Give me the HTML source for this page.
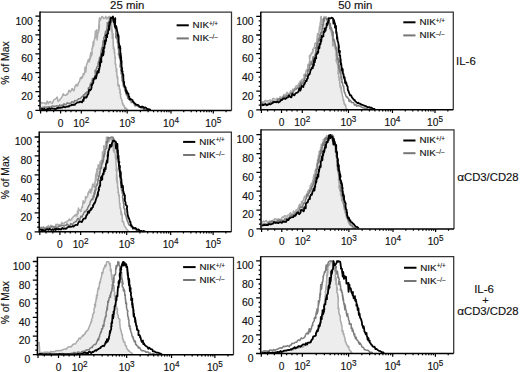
<!DOCTYPE html><html><head><meta charset="utf-8"><style>html,body{margin:0;padding:0;background:#fff;}svg{display:block;}text{stroke:#111;stroke-width:0.15px;}</style></head><body>
<svg width="520" height="372" viewBox="0 0 520 372" font-family='"Liberation Sans", sans-serif' fill="#111">
<rect width="520" height="372" fill="#fff"/>
<path d="M40.7 110.4 L40.8 103.3 L41.88 102.46 L42.55 103.1 L43.99 102.93 L45.28 102.97 L46.03 104.26 L47.05 101.11 L48.38 103.74 L49.03 101.93 L50.4 101.51 L51.15 102.8 L52.32 103.38 L53.09 101.65 L53.59 100.07 L55.53 98.79 L56.23 98.3 L57.23 97.05 L58.08 101.43 L59.74 100.21 L60.5 98.65 L61.39 97.85 L62.24 96.37 L63.3 93.75 L64.05 95.32 L64.6 95.3 L66.01 95.17 L67.02 94 L67.52 94.34 L68.55 91.82 L68.96 90.16 L70.35 91.92 L71.35 90.07 L72.06 88.48 L73.13 90.24 L73.96 90.75 L74.72 87.55 L74.87 87.09 L75.31 85.67 L76.07 85.17 L76.46 84.33 L77.3 86.08 L78.05 84.34 L78.58 82.85 L79.16 82.06 L79.55 80.98 L80.53 77.52 L81.03 78.79 L82.03 76.54 L81.89 78.29 L82.83 76.45 L83.18 73.84 L84.14 74.53 L84.34 73.18 L84.77 71.14 L84.94 67.32 L85.73 71.08 L85.82 72.11 L86.42 65.04 L87.04 63.93 L87.17 63.13 L87.33 63.03 L88.18 59.85 L88.35 61.88 L88.86 59.14 L89.34 61.71 L89.84 58.13 L90.15 56.57 L90.47 53.74 L90.37 58.97 L90.92 52.39 L91.07 55.15 L91.41 56.16 L92.17 53.46 L91.9 49.59 L91.88 48.77 L92.44 48.65 L92.57 45.83 L93.05 46.78 L93.1 42.04 L93.04 41.92 L93.8 44.93 L93.85 41.88 L94.85 37.28 L94.9 38.62 L95.41 30.9 L96.05 37.31 L96.43 36.02 L96.37 34.64 L96.84 29.86 L97.09 34.04 L97.07 39.99 L97.99 32.53 L98.53 32.15 L98.89 24.47 L98.63 26.4 L99.04 29.8 L99.08 30.1 L99.39 25.35 L99.06 21.42 L99.02 23.55 L99.25 19.89 L98.99 24.41 L99.51 17.72 L99.71 20.25 L99.24 22.38 L99.32 18.74 L100.06 20.57 L101.99 16.4 L102.41 16.4 L103.53 18.64 L105.21 17.81 L105.82 16.4 L106.66 19 L108.29 16.94 L109.3 19.32 L109.27 16.4 L109.7 16.4 L110.22 19.62 L110.58 20.9 L110.99 24.95 L111.19 27.75 L111.45 31.13 L111.7 20.75 L110.98 29.16 L111.41 21.67 L112.13 31.52 L112.13 34.69 L111.8 27.18 L112.34 32 L112.29 38.55 L112.37 30.69 L112.26 34.75 L112.6 35.39 L113.06 33.75 L113.08 39.76 L112.97 36.72 L113.12 36.83 L113.11 45.79 L113.4 42.66 L113.24 40.41 L113.43 47.57 L113.28 48.8 L113.61 46.72 L113.64 46.47 L113.63 46.72 L114.36 49.73 L114.73 49.82 L114.29 49.83 L114.17 52.88 L114.43 50.96 L114.77 52.43 L114.66 53.15 L114.97 57.49 L115.23 59.76 L115.13 57.23 L115.52 57.48 L115.32 59.51 L115.07 60.78 L115.36 63.21 L115.02 64.08 L115.6 64 L115.8 64.12 L115.89 67.79 L116.19 68.33 L116.52 69.39 L115.99 70.97 L116.72 68.65 L116.73 72.53 L116.33 71.46 L116.74 70.52 L116.98 76.68 L117.41 76.17 L117.39 78.41 L117.65 79.24 L117.87 77.1 L117.67 78.89 L117.84 79.81 L117.8 85.03 L118.6 86.25 L118.54 85.45 L118.65 84.4 L118.36 85.67 L119.32 85.54 L119.36 89.05 L119.31 89.34 L120.09 89.16 L119.85 93.17 L120.15 90.2 L120.28 93.93 L120.89 94.33 L120.43 95.19 L120.56 96.51 L121.12 98.66 L121.34 98.69 L122.16 100.7 L121.89 100.59 L122.58 103.76 L122.47 103.23 L122.93 103.21 L122.84 105.05 L124.06 105.31 L124.71 107.99 L124.89 108.67 L125.51 107.54 L126.76 109.15 L128 110.2 L128 110.4Z" fill="#ededed" stroke="none"/>
<path d="M40.8 103.3 L41.88 102.46 L42.55 103.1 L43.99 102.93 L45.28 102.97 L46.03 104.26 L47.05 101.11 L48.38 103.74 L49.03 101.93 L50.4 101.51 L51.15 102.8 L52.32 103.38 L53.09 101.65 L53.59 100.07 L55.53 98.79 L56.23 98.3 L57.23 97.05 L58.08 101.43 L59.74 100.21 L60.5 98.65 L61.39 97.85 L62.24 96.37 L63.3 93.75 L64.05 95.32 L64.6 95.3 L66.01 95.17 L67.02 94 L67.52 94.34 L68.55 91.82 L68.96 90.16 L70.35 91.92 L71.35 90.07 L72.06 88.48 L73.13 90.24 L73.96 90.75 L74.72 87.55 L74.87 87.09 L75.31 85.67 L76.07 85.17 L76.46 84.33 L77.3 86.08 L78.05 84.34 L78.58 82.85 L79.16 82.06 L79.55 80.98 L80.53 77.52 L81.03 78.79 L82.03 76.54 L81.89 78.29 L82.83 76.45 L83.18 73.84 L84.14 74.53 L84.34 73.18 L84.77 71.14 L84.94 67.32 L85.73 71.08 L85.82 72.11 L86.42 65.04 L87.04 63.93 L87.17 63.13 L87.33 63.03 L88.18 59.85 L88.35 61.88 L88.86 59.14 L89.34 61.71 L89.84 58.13 L90.15 56.57 L90.47 53.74 L90.37 58.97 L90.92 52.39 L91.07 55.15 L91.41 56.16 L92.17 53.46 L91.9 49.59 L91.88 48.77 L92.44 48.65 L92.57 45.83 L93.05 46.78 L93.1 42.04 L93.04 41.92 L93.8 44.93 L93.85 41.88 L94.85 37.28 L94.9 38.62 L95.41 30.9 L96.05 37.31 L96.43 36.02 L96.37 34.64 L96.84 29.86 L97.09 34.04 L97.07 39.99 L97.99 32.53 L98.53 32.15 L98.89 24.47 L98.63 26.4 L99.04 29.8 L99.08 30.1 L99.39 25.35 L99.06 21.42 L99.02 23.55 L99.25 19.89 L98.99 24.41 L99.51 17.72 L99.71 20.25 L99.24 22.38 L99.32 18.74 L100.06 20.57 L101.99 16.4 L102.41 16.4 L103.53 18.64 L105.21 17.81 L105.82 16.4 L106.66 19 L108.29 16.94 L109.3 19.32 L109.27 16.4 L109.7 16.4 L110.22 19.62 L110.58 20.9 L110.99 24.95 L111.19 27.75 L111.45 31.13 L111.7 20.75 L110.98 29.16 L111.41 21.67 L112.13 31.52 L112.13 34.69 L111.8 27.18 L112.34 32 L112.29 38.55 L112.37 30.69 L112.26 34.75 L112.6 35.39 L113.06 33.75 L113.08 39.76 L112.97 36.72 L113.12 36.83 L113.11 45.79 L113.4 42.66 L113.24 40.41 L113.43 47.57 L113.28 48.8 L113.61 46.72 L113.64 46.47 L113.63 46.72 L114.36 49.73 L114.73 49.82 L114.29 49.83 L114.17 52.88 L114.43 50.96 L114.77 52.43 L114.66 53.15 L114.97 57.49 L115.23 59.76 L115.13 57.23 L115.52 57.48 L115.32 59.51 L115.07 60.78 L115.36 63.21 L115.02 64.08 L115.6 64 L115.8 64.12 L115.89 67.79 L116.19 68.33 L116.52 69.39 L115.99 70.97 L116.72 68.65 L116.73 72.53 L116.33 71.46 L116.74 70.52 L116.98 76.68 L117.41 76.17 L117.39 78.41 L117.65 79.24 L117.87 77.1 L117.67 78.89 L117.84 79.81 L117.8 85.03 L118.6 86.25 L118.54 85.45 L118.65 84.4 L118.36 85.67 L119.32 85.54 L119.36 89.05 L119.31 89.34 L120.09 89.16 L119.85 93.17 L120.15 90.2 L120.28 93.93 L120.89 94.33 L120.43 95.19 L120.56 96.51 L121.12 98.66 L121.34 98.69 L122.16 100.7 L121.89 100.59 L122.58 103.76 L122.47 103.23 L122.93 103.21 L122.84 105.05 L124.06 105.31 L124.71 107.99 L124.89 108.67 L125.51 107.54 L126.76 109.15 L128 110.2" fill="none" stroke="#ababab" stroke-width="1.5" stroke-linejoin="round"/>
<path d="M41 107.8 L42.39 107.42 L43.11 107.92 L44.34 106.82 L45.27 107.1 L46.09 107.58 L46.7 107.09 L47.73 107.09 L49.01 106.78 L50.08 107.02 L51.28 107.08 L51.86 106 L52.76 105.93 L54.13 106.31 L55.01 106.6 L56.28 105.78 L57.36 105.92 L58.56 106.42 L59.67 104.82 L60.37 106.06 L61.57 105.13 L62.4 105.42 L64.02 103.78 L64.97 104.84 L65.57 104.64 L67.16 102.9 L67.7 102.71 L68.31 103.53 L69.27 103.54 L70.76 103.02 L71.86 101.69 L72.62 101.96 L73.74 102.62 L74.64 100.58 L75.44 100.68 L76.69 100.41 L77.71 99.67 L78.94 98.7 L80.35 98.37 L80.6 98.4 L81.43 97.3 L82.51 96.19 L83.22 96.21 L83.53 94.7 L84.9 94.99 L84.94 93.82 L85.79 92.76 L86.52 93.76 L87 91.75 L88.53 91.54 L88.28 88.45 L88.5 87.75 L89.46 87.96 L89.88 86.3 L90.08 85.54 L90.42 83.64 L90.66 83.84 L91.52 82.17 L91.78 83.33 L92.42 78.6 L92.56 80.76 L93.42 78.51 L93.78 78.6 L94.26 79.21 L94.75 77.69 L94.9 75.2 L94.94 75.61 L95.49 74.97 L95.03 70.57 L95.57 71.81 L96 69.71 L96.58 68.64 L97.09 68.73 L96.64 67.85 L96.91 67.14 L97.59 66.03 L97.95 66.33 L98.04 63.43 L98.33 64.23 L98.36 62.46 L98.35 61.81 L99.13 60.86 L99.07 61 L99.53 57.54 L100.23 56.84 L100.23 56.5 L100.47 56.57 L101 54.78 L100.99 55.09 L100.96 53.02 L101.55 48.6 L101.79 50.42 L101.94 49.79 L101.96 47.37 L102.03 48.33 L102.49 46.59 L102.76 44.85 L102.74 43.58 L103.12 40.79 L103.72 41.91 L103.89 39.1 L103.72 37.41 L103.96 42 L103.88 39.27 L104.27 37.31 L105.56 31.79 L105.25 34.18 L105.37 33.77 L105.48 31.49 L106.29 34 L106.37 30.39 L106.31 34.88 L106.43 31.62 L107.11 26.93 L106.93 27.69 L107.28 26.66 L107.23 22.59 L108.01 23.59 L108.76 22.49 L108.98 21.31 L109.93 19.35 L110.12 20.69 L111.02 20.23 L112.43 19.99 L113.44 18.55 L113.21 21.59 L113.42 21.46 L113.91 20.61 L114.36 24.25 L114.31 23.65 L114.91 26.14 L115.01 25.93 L114.73 24.55 L115.21 28.77 L115.4 27.73 L115.72 31.25 L115.78 28.4 L115.8 37.72 L115.91 34.09 L116.43 35.54 L116.93 36.53 L116.36 37.11 L116.93 38.98 L116.87 37.57 L117.52 37.92 L117.4 42.46 L117.51 39.73 L117.74 42.29 L118.04 45.18 L118.26 49.09 L118.23 46.73 L118.28 47.62 L118.55 49.77 L118.8 52.78 L119.16 48.39 L119.49 47.92 L118.27 54.52 L118.88 52.09 L119.11 56.2 L119.36 55.99 L119.25 55.26 L119.51 56.93 L119.37 53.99 L120.08 59.48 L119.44 57.63 L120.19 58.57 L120.46 62.31 L120.4 63.09 L120.04 66.92 L120.7 62.78 L121.07 66.03 L120.7 70.76 L120.8 66.75 L120.87 70.47 L121.51 71.66 L120.99 73.62 L121.57 72.48 L121.37 72.95 L122.16 72.78 L121.65 77.4 L121.97 75.41 L122.05 79.19 L122.22 80.82 L122.68 81.79 L122.76 80.26 L122.84 82.52 L123.34 86.11 L123.42 82.27 L123.31 83.8 L123.94 86.51 L123.9 86.98 L124.56 88.08 L124.91 90.4 L125.51 91.66 L125.62 91.36 L125.96 93.54 L126.76 95.33 L127.06 95.56 L127.28 94.44 L127.69 98.37 L128.06 97.4 L128.34 97.68 L129.19 99.66 L130.32 99.23 L130.76 100.82 L131.35 102.59 L131.76 101.86 L133.2 102.59 L134.19 104.12 L135.1 106.02 L136.05 105.77 L136.91 105.15 L137.72 106.29 L138.17 106.57 L139.41 107.1 L140.66 107.16 L142.07 108.07 L143.13 108.24 L143.47 109.46 L145.3 109.38 L145.75 109.66 L147.32 108.76 L147.88 109.44 L149 109.8" fill="none" stroke="#7d7d7d" stroke-width="1.5" stroke-linejoin="round"/>
<path d="M41 109.2 L42.15 108.86 L42.72 109.66 L44.51 108.8 L44.95 109.6 L46.2 109.88 L47.56 108.82 L48.42 109.03 L49.37 108.3 L49.69 108.78 L50.74 109 L52 108.25 L52.88 108.63 L54.01 108.57 L55.12 109.18 L56.7 108.58 L57.2 107.8 L57.99 108.31 L58.93 107.53 L60.5 107.85 L61.69 107.49 L62.55 107.49 L63.59 106.33 L64.31 107.13 L65.38 107.29 L66.62 106.53 L67.92 106.3 L68.8 106.59 L69.61 105.67 L71.08 105.39 L71.86 104.54 L72.77 105.07 L73.2 104.76 L74.82 104.84 L75.2 103.91 L76.18 103.33 L77.87 102.27 L78.96 102.43 L79.17 102.08 L80.3 101.57 L82.04 102.39 L83.03 99.72 L83.5 100.87 L84.04 97.15 L84.37 98.4 L85.05 97.4 L85.94 97.14 L86.41 97.57 L87.69 94.64 L87.54 94.69 L88.32 94.1 L89.16 89.62 L89.62 89.75 L90.12 90.37 L91.16 89.14 L91.59 87.38 L91.49 84.71 L91.95 85.37 L92.21 84.84 L92.46 83.88 L93.21 82.85 L93.5 80.19 L93.34 80.7 L94.3 78.17 L94.72 78.86 L95.4 76.41 L95.86 77.88 L96.05 78.33 L96.66 74.95 L96.63 75.95 L97.28 71.42 L97.48 72.72 L97.98 71.77 L98.16 70.77 L98.76 72.52 L98.96 68.55 L99.22 69.77 L99.92 64.45 L99.81 65.82 L99.8 62.22 L100.13 66.07 L100.18 61.8 L100.76 58.12 L101.3 61.63 L101.46 62.24 L101.26 59.22 L101.73 53.81 L102.25 54.94 L102.21 55.88 L102.72 54.6 L102.5 52.82 L102.89 54.06 L102.95 49.97 L103.22 55.32 L103.82 51.9 L103.66 49.19 L103.38 48.96 L103.43 47.62 L104.4 47.95 L104.47 45.43 L104.54 44.59 L104.8 40.41 L105.11 44.38 L105.5 41.3 L106.14 41 L106.16 35.15 L105.84 35.69 L107.2 37.09 L107.04 34.93 L107 35.74 L107.36 34.58 L107.44 33.86 L108.04 33.62 L107.95 32.96 L108.3 29.49 L108.39 28.92 L108.82 30.23 L108.93 25.16 L108.95 25.34 L109.25 29.14 L109.43 22.22 L109.81 25.26 L109.89 22.01 L110.54 22.34 L110.55 18.1 L111.01 17.57 L111.91 18.37 L112.96 16.54 L113.5 19.87 L113.76 22.23 L114.16 19.51 L114.81 26.68 L115.27 18.18 L115.08 26.29 L115.72 28.13 L116.02 25.87 L116.31 26.44 L116.25 28.48 L116.63 27.82 L117 30.4 L116.95 30.3 L117.6 32.91 L117.75 35.33 L117.74 34.72 L118.21 37.13 L117.78 35.55 L118.13 34.45 L118.63 36.2 L118.66 41.2 L118.58 41.19 L119.24 45.13 L118.96 47.71 L119.53 46.1 L119.82 45.68 L120.47 48.74 L119.8 46.54 L120.14 48.53 L120.32 50.9 L120.18 56.91 L120.27 54.66 L120.81 53.39 L120.37 54.92 L120.47 58 L120.57 53.55 L121.1 57.19 L120.78 60.18 L121.25 58.25 L120.99 61.86 L121.61 61.01 L121.49 66.6 L121.52 61.97 L121.13 63.65 L121.2 63.42 L121.9 68.09 L122.24 68.35 L121.75 71.09 L122.04 70.4 L122.67 71.42 L122.28 72.08 L122.91 74.63 L123.04 75.17 L123.43 76.14 L123.17 74.28 L123.35 77.79 L123.56 81.45 L123.75 81.4 L123.98 81.79 L124.21 82.7 L123.93 83.18 L124.52 86.31 L124.76 86.68 L124.84 86.08 L125.06 87.4 L125.59 87.46 L126.09 91.87 L126.2 89.86 L127.08 91.76 L126.74 93.38 L127.63 92.99 L128.38 93.43 L128.68 96.52 L129.27 97.02 L129.27 96.56 L129.59 99.64 L130.52 98.85 L131.55 99.72 L132.54 100.08 L132.7 100.89 L133.41 101.94 L134.52 103.28 L135.46 103.98 L135.77 104.4 L136.96 104.82 L137.99 104.88 L138.59 105.4 L139.39 106.51 L140.84 107.42 L141.47 106.59 L142.83 106.73 L144.25 107.97 L145.27 107.41 L146.28 108.02 L147.31 109.21 L149.11 109.23 L149.9 109.69 L151 109.8" fill="none" stroke="#000" stroke-width="1.8" stroke-linejoin="round"/>
<path d="M261.5 109.8 L261.5 102.5 L262.99 101.67 L263.81 102.67 L265.14 100.34 L266.17 100.88 L267.09 101.81 L267.8 100.76 L268.93 100.71 L270.18 99.99 L271.23 100.41 L272.36 100.61 L272.87 98.45 L273.7 98.38 L275 99.25 L275.82 99.91 L277.02 98.31 L278.03 98.67 L279.17 99.74 L280.21 96.59 L280.76 98.92 L281.82 97.07 L282.51 97.67 L284 94.37 L284.81 96.53 L285.27 96.13 L286.72 92.65 L287.12 92.3 L287.6 93.94 L288.41 93.96 L289.76 92.95 L290.74 90.71 L291.24 91.4 L292.1 92.85 L292.75 89.05 L293.29 89.4 L294.28 89.05 L295.05 87.79 L296.02 86.08 L297.36 85.86 L297.52 86.31 L298.27 84.63 L299.27 82.95 L299.91 83.36 L300.13 80.97 L301.32 82.19 L301.19 80.75 L301.87 79.53 L302.43 81.93 L302.73 79.04 L304.09 79.29 L303.89 74.73 L304.15 74.25 L305.17 75.31 L305.64 73.22 L305.89 72.63 L306.28 70.17 L306.56 71.16 L307.47 69.1 L307.49 71.44 L307.89 64.26 L307.79 68.2 L308.41 65.04 L308.53 65.63 L308.76 67.06 L309.22 65.1 L309.33 61.61 L309.34 62.73 L309.85 62.18 L309.36 55.71 L309.86 58.11 L310.25 55.28 L310.81 54.06 L311.27 54.65 L310.94 53.85 L311.32 53.31 L312.11 52.14 L312.58 53.15 L312.78 49.22 L313.18 51 L313.32 48.82 L313.42 48.36 L314.31 47.45 L314.36 48.19 L314.93 43.45 L315.74 42.91 L315.85 42.92 L316.24 43.56 L316.83 41.39 L316.88 42.39 L316.9 39.78 L317.56 33.66 L317.85 36.93 L318.07 36.5 L318.15 33.38 L318.27 35.34 L318.79 33.26 L319.12 31.17 L319.16 29.79 L319.6 26.15 L320.26 28.33 L320.49 24.67 L320.14 22.63 L320.21 29.9 L319.96 26.33 L320.18 23.89 L321.29 16.6 L320.81 20.19 L320.71 20.07 L320.62 17.17 L321.21 21.34 L321.08 16.6 L321.79 24.53 L322.67 21.21 L324.12 16.6 L324.71 18.38 L325.82 18.35 L326.01 16.6 L327.01 18.72 L327.66 19.55 L327.78 20.26 L328.63 19.92 L328.72 24.02 L329.52 25.67 L330.33 26.76 L330.44 26.32 L330.17 29.88 L330.35 29.29 L330.81 27.77 L331.22 32.1 L331.14 30.91 L331.71 33.74 L331.82 33.07 L331.55 30.89 L332.04 35.99 L332.24 34.24 L332.57 38.43 L332.64 34.33 L332.67 46.05 L332.79 40.94 L333.4 42.45 L333.99 43.34 L333.52 43.68 L334.19 45.71 L334.23 43.48 L334.98 43.54 L334.96 49.03 L335.17 45.08 L335.5 48 L335.9 51.34 L336.05 56.06 L335.95 52.64 L335.99 53.52 L336.26 56.02 L336.5 59.63 L336.85 53.7 L337.19 52.82 L335.96 61.05 L336.57 57.66 L336.79 62.67 L337.03 62.14 L336.93 60.94 L337.18 62.82 L337.04 58.81 L337.75 65.55 L337.1 62.95 L337.9 63.89 L338.22 68.39 L338.2 69.12 L337.88 73.69 L338.6 68.24 L339.01 72.09 L338.64 77.75 L338.73 72.47 L338.81 76.86 L339.45 78.08 L338.93 80.26 L339.5 78.6 L339.31 78.94 L340.09 78.5 L339.59 83.94 L339.9 81.27 L340.03 85.59 L340.23 87.29 L340.73 88.18 L340.85 86.07 L340.97 88.53 L341.5 92.55 L341.47 87.7 L341.23 89.26 L341.75 92.22 L341.59 92.52 L342.13 93.56 L342.37 96.02 L342.85 97.24 L342.84 96.67 L342.94 99.05 L343.51 100.95 L343.57 101.13 L343.72 99.85 L344.06 103.97 L344.36 102.92 L344.57 103.21 L345.02 105.29 L345.76 105.07 L345.81 106.72 L346.22 108.46 L346.44 108.37 L347.5 109.8 L347.5 109.8Z" fill="#ededed" stroke="none"/>
<path d="M261.5 102.5 L262.99 101.67 L263.81 102.67 L265.14 100.34 L266.17 100.88 L267.09 101.81 L267.8 100.76 L268.93 100.71 L270.18 99.99 L271.23 100.41 L272.36 100.61 L272.87 98.45 L273.7 98.38 L275 99.25 L275.82 99.91 L277.02 98.31 L278.03 98.67 L279.17 99.74 L280.21 96.59 L280.76 98.92 L281.82 97.07 L282.51 97.67 L284 94.37 L284.81 96.53 L285.27 96.13 L286.72 92.65 L287.12 92.3 L287.6 93.94 L288.41 93.96 L289.76 92.95 L290.74 90.71 L291.24 91.4 L292.1 92.85 L292.75 89.05 L293.29 89.4 L294.28 89.05 L295.05 87.79 L296.02 86.08 L297.36 85.86 L297.52 86.31 L298.27 84.63 L299.27 82.95 L299.91 83.36 L300.13 80.97 L301.32 82.19 L301.19 80.75 L301.87 79.53 L302.43 81.93 L302.73 79.04 L304.09 79.29 L303.89 74.73 L304.15 74.25 L305.17 75.31 L305.64 73.22 L305.89 72.63 L306.28 70.17 L306.56 71.16 L307.47 69.1 L307.49 71.44 L307.89 64.26 L307.79 68.2 L308.41 65.04 L308.53 65.63 L308.76 67.06 L309.22 65.1 L309.33 61.61 L309.34 62.73 L309.85 62.18 L309.36 55.71 L309.86 58.11 L310.25 55.28 L310.81 54.06 L311.27 54.65 L310.94 53.85 L311.32 53.31 L312.11 52.14 L312.58 53.15 L312.78 49.22 L313.18 51 L313.32 48.82 L313.42 48.36 L314.31 47.45 L314.36 48.19 L314.93 43.45 L315.74 42.91 L315.85 42.92 L316.24 43.56 L316.83 41.39 L316.88 42.39 L316.9 39.78 L317.56 33.66 L317.85 36.93 L318.07 36.5 L318.15 33.38 L318.27 35.34 L318.79 33.26 L319.12 31.17 L319.16 29.79 L319.6 26.15 L320.26 28.33 L320.49 24.67 L320.14 22.63 L320.21 29.9 L319.96 26.33 L320.18 23.89 L321.29 16.6 L320.81 20.19 L320.71 20.07 L320.62 17.17 L321.21 21.34 L321.08 16.6 L321.79 24.53 L322.67 21.21 L324.12 16.6 L324.71 18.38 L325.82 18.35 L326.01 16.6 L327.01 18.72 L327.66 19.55 L327.78 20.26 L328.63 19.92 L328.72 24.02 L329.52 25.67 L330.33 26.76 L330.44 26.32 L330.17 29.88 L330.35 29.29 L330.81 27.77 L331.22 32.1 L331.14 30.91 L331.71 33.74 L331.82 33.07 L331.55 30.89 L332.04 35.99 L332.24 34.24 L332.57 38.43 L332.64 34.33 L332.67 46.05 L332.79 40.94 L333.4 42.45 L333.99 43.34 L333.52 43.68 L334.19 45.71 L334.23 43.48 L334.98 43.54 L334.96 49.03 L335.17 45.08 L335.5 48 L335.9 51.34 L336.05 56.06 L335.95 52.64 L335.99 53.52 L336.26 56.02 L336.5 59.63 L336.85 53.7 L337.19 52.82 L335.96 61.05 L336.57 57.66 L336.79 62.67 L337.03 62.14 L336.93 60.94 L337.18 62.82 L337.04 58.81 L337.75 65.55 L337.1 62.95 L337.9 63.89 L338.22 68.39 L338.2 69.12 L337.88 73.69 L338.6 68.24 L339.01 72.09 L338.64 77.75 L338.73 72.47 L338.81 76.86 L339.45 78.08 L338.93 80.26 L339.5 78.6 L339.31 78.94 L340.09 78.5 L339.59 83.94 L339.9 81.27 L340.03 85.59 L340.23 87.29 L340.73 88.18 L340.85 86.07 L340.97 88.53 L341.5 92.55 L341.47 87.7 L341.23 89.26 L341.75 92.22 L341.59 92.52 L342.13 93.56 L342.37 96.02 L342.85 97.24 L342.84 96.67 L342.94 99.05 L343.51 100.95 L343.57 101.13 L343.72 99.85 L344.06 103.97 L344.36 102.92 L344.57 103.21 L345.02 105.29 L345.76 105.07 L345.81 106.72 L346.22 108.46 L346.44 108.37 L347.5 109.8" fill="none" stroke="#ababab" stroke-width="1.5" stroke-linejoin="round"/>
<path d="M261.5 104 L262.73 103.35 L263.38 104.72 L265.25 103.17 L265.78 104.53 L267.11 104.95 L268.55 103.08 L269.49 103.38 L270.4 101.9 L270.67 102.51 L271.67 102.69 L272.88 101.13 L273.72 101.6 L274.8 101.28 L275.87 102.18 L277.4 100.87 L277.85 99.2 L278.57 100.16 L279.45 98.75 L280.87 99.21 L281.91 98.42 L282.63 98.28 L283.52 96.1 L284.09 97.36 L285.01 97.51 L286.1 96.03 L287.26 95.49 L288.04 96.09 L288.76 94.62 L290.14 94.25 L290.81 92.94 L291.52 93.67 L291.75 93.03 L293.15 93 L293.3 91.51 L294.05 90.58 L295.5 88.89 L296.36 89.14 L296.34 88.58 L297.23 87.78 L298.74 88.99 L299.49 84.9 L300.09 87.19 L300.75 82.3 L301.2 84.62 L301.77 83.43 L302.55 83.27 L302.92 84.04 L304.09 80.21 L303.9 80.63 L304.65 80.16 L305.46 74.61 L305.89 75.11 L306.35 76.21 L307.36 74.92 L307.78 72.99 L307.66 69.95 L308.11 71.06 L308.35 70.67 L308.58 69.74 L309.32 68.73 L309.6 65.76 L309.43 66.61 L310.38 63.81 L310.62 64.71 L311.13 61.87 L311.46 63.72 L311.71 64.44 L312.37 60.64 L312.4 61.98 L313.1 56.87 L313.35 58.56 L313.91 57.63 L314.14 56.63 L314.79 58.81 L315.05 54.4 L315.28 55.89 L315.94 49.9 L315.89 51.54 L315.94 47.53 L316.34 51.97 L316.44 47.2 L317.09 43.11 L317.69 47.14 L317.92 47.9 L317.77 44.56 L318.3 38.53 L318.89 39.88 L318.91 40.99 L319.5 39.62 L319.35 37.69 L319.83 39.13 L319.97 34.62 L320.31 40.64 L320.99 36.89 L320.9 33.92 L320.71 33.72 L320.83 32.29 L321.88 32.7 L322.04 29.95 L322.1 29.06 L322.35 24.47 L322.61 28.87 L322.94 25.49 L323.53 25.18 L323.5 18.76 L323.12 19.38 L324.43 20.94 L324.23 18.58 L324.13 19.5 L324.44 18.24 L325.24 18.2 L326.64 18.81 L326.85 20.18 L327.5 18.57 L327.89 20.07 L328.62 23.48 L329.03 20.32 L329.35 22.55 L329.95 28.39 L330.36 23.52 L330.71 28.57 L330.75 27.45 L331.37 29.79 L331.35 27.79 L331.78 29.32 L331.86 30.97 L332.09 30.19 L332.4 33.3 L332.42 35.5 L332.59 33.03 L333.01 39.66 L333.24 31.89 L332.81 39.37 L333.5 41.07 L333.84 39.02 L334.15 39.56 L334.11 41.45 L334.51 40.87 L334.9 43.25 L334.86 43.19 L335.53 45.59 L335.7 47.82 L335.71 47.29 L336.21 49.5 L335.81 48.08 L336.19 47.1 L336.71 48.72 L336.75 53.32 L336.69 53.39 L337.36 57.01 L337.09 59.41 L337.68 58.05 L337.98 57.74 L338.66 60.55 L338.03 58.64 L338.41 60.5 L338.62 62.68 L338.51 68.1 L338.64 66.16 L339.21 65.11 L338.88 66.58 L339.09 69.4 L339.31 65.58 L339.95 68.9 L339.75 71.63 L340.34 70.05 L340.18 73.32 L340.92 72.7 L340.92 77.66 L341.06 73.78 L340.78 75.36 L340.97 75.31 L341.72 79.45 L342.11 79.82 L341.67 82.3 L342.01 81.89 L342.69 82.91 L342.39 83.6 L343.12 85.85 L343.34 86.44 L343.82 87.38 L343.66 86.04 L343.93 89.04 L344.24 92.13 L344.52 92.26 L344.84 92.75 L345.16 93.64 L345.33 94.17 L346.2 96.7 L346.73 97.13 L347.11 96.86 L347.61 98.01 L348.43 98.26 L349.22 101.6 L349.84 100.15 L351.25 101.44 L351.27 102.6 L352.52 102.4 L353.63 102.78 L354.29 104.88 L355.36 104.95 L355.82 104.4 L356.62 106.14 L357.78 105.52 L359.04 105.98 L360.26 106.11 L360.64 106.53 L361.66 107.06 L363.07 107.76 L364.33 108.06 L364.69 108.28 L365.94 108.49 L367.02 108.49 L367.68 108.78 L368.53 109.4 L370 109.5" fill="none" stroke="#7d7d7d" stroke-width="1.5" stroke-linejoin="round"/>
<path d="M261.5 105.5 L262.61 104.69 L263.25 105.19 L265.07 104.5 L265.63 104.02 L266.87 105.3 L267.84 104.8 L269.4 103.96 L270.19 104.41 L271.32 103.7 L272.14 103.2 L272.87 102.94 L273.62 101.81 L275.35 102.1 L276.1 102.25 L276.88 101.66 L277.94 101.98 L278.48 102.46 L280.01 101.53 L280.88 99.97 L282.09 100.05 L282.85 99.07 L283.6 98.49 L284.74 98.61 L285.6 99.05 L286.8 97.57 L288.01 97.36 L288.91 95.48 L289.68 95.94 L290.21 97.11 L291.45 97.37 L292.32 93.71 L293.58 94.86 L294.46 95.39 L295.25 93.66 L296.19 92.94 L297.22 92.69 L298.51 91.64 L299.05 89.31 L299.59 88.26 L300.42 90.61 L300.96 88.84 L301.82 85.75 L301.87 86.01 L303.41 87.04 L303.35 86.31 L303.91 84.78 L304.61 83.93 L305.41 81.79 L305.68 80.86 L305.76 81.25 L306.58 81.1 L307.13 78.63 L307.7 78.65 L308.03 75.87 L308.72 75.38 L308.89 74.32 L309.45 74.08 L309.73 73.94 L310.14 72.23 L310.52 70.05 L311.47 69.23 L311.5 68.32 L312 67.47 L312.31 67.87 L312.83 68.08 L313.17 64.02 L313.94 65.52 L313.9 61.2 L314.56 58.78 L314.76 62.27 L315.18 59.33 L314.81 58.33 L315.5 57.69 L316.26 58.2 L316.04 55.23 L316.83 53.15 L317.03 53.26 L317.53 53.7 L317.79 51.81 L317.79 51.7 L318.24 52.51 L318.33 48.4 L318.96 46.68 L319.27 46.17 L319.45 48.3 L319.63 43.84 L319.99 44.68 L320.52 43.95 L320.72 39.58 L321.09 40.11 L321.23 41.64 L321.79 35.84 L322.16 37.1 L322.6 36.66 L322.78 36.44 L323.37 36.39 L323.46 33.44 L323.83 31.46 L324.15 32.3 L324.79 31.63 L324.54 28.46 L325.47 30.73 L326.12 27.6 L326.48 27.34 L326.49 25.97 L326.78 23.47 L327.27 25.2 L327.71 21.92 L327.86 23.06 L328.19 22.69 L328.57 21.55 L328.69 18.22 L330.15 18.49 L332.01 17.7 L332.57 17.96 L333.08 18.58 L333.44 23.62 L333.81 19.87 L334.04 20.15 L334.45 22.43 L335.06 23.92 L334.95 27.48 L335.11 24.57 L334.98 27.11 L335.58 26.32 L335.82 27.43 L336 25.91 L336.23 33.07 L336.06 30.64 L336.5 32.13 L336.93 35.47 L337.03 37.64 L336.87 35.7 L336.91 38.82 L337.33 37.03 L337.63 41.27 L337.67 41.38 L337.81 41.42 L338.14 42.23 L338.46 44.43 L338.4 44.04 L338.8 45.56 L339.02 48.19 L338.56 45.33 L338.74 51.82 L339 51.21 L339.53 53.59 L339.52 51.31 L339.94 52.18 L339.9 51 L339.53 53.78 L339.49 55.5 L340.2 55.48 L340.43 62.31 L340.17 61.55 L340.51 59.11 L340.66 59.1 L340.8 64.48 L341.25 63.36 L340.85 64.66 L341.41 64.91 L341.5 67.08 L341.82 67.61 L341.65 69.91 L342.38 71.28 L342.77 72.66 L342.76 69.09 L342.9 72.95 L343.14 73.93 L343.57 74.08 L343.68 77.16 L344.48 78.89 L344.39 76.75 L344.43 77.01 L344.72 77.63 L345.1 82.88 L345.43 82.79 L345.56 81.27 L345.97 83.3 L346.61 84.92 L346.16 82.54 L347 85.73 L346.79 85.33 L347.7 86.73 L347.73 89.41 L348.14 90.63 L348.57 91.1 L348.86 92.55 L349.19 93.08 L350.09 95.29 L350.46 95.11 L351.27 95.57 L352.04 97.57 L352.04 97.61 L352.9 98.48 L353.81 99.77 L354.71 99.96 L355.18 101.31 L355.97 101.73 L356.36 102.16 L357.66 103.19 L358.31 102.67 L359.12 103.52 L360 103.73 L361.16 104.39 L361.84 104.78 L362.8 104.92 L363.64 105.44 L364.84 105.8 L365.68 106.06 L366.41 106.38 L367.66 107.2 L369.44 107.21 L370.05 107.85 L371.25 107.55 L372.49 108.44 L372.8 109.22 L374.05 108.84 L375 109.5" fill="none" stroke="#000" stroke-width="1.8" stroke-linejoin="round"/>
<path d="M39.9 231.8 L40 227.8 L41.13 227.03 L41.68 228.64 L43.45 226.81 L43.88 228.43 L45.11 228.95 L46.45 226.69 L47.29 227.07 L48.22 225.51 L48.52 226.48 L49.56 226.93 L50.79 225.31 L51.66 226.09 L52.76 225.94 L53.86 227.21 L55.42 225.91 L55.9 224.22 L56.65 225.53 L57.55 224.15 L59.08 225.03 L60.23 224.52 L60.99 224.51 L61.92 222.21 L62.53 223.77 L63.49 224.09 L64.62 222.57 L65.82 222.11 L66.56 222.77 L67.22 221.06 L68.55 220.61 L69.17 219.05 L69.94 220.16 L70.23 219.65 L71.7 219.87 L71.9 218.36 L72.71 217.52 L74.23 215.77 L74.95 216.1 L74.78 215.46 L75.53 214.54 L76.9 216.08 L77.51 211.13 L77.96 214 L78.48 208.01 L78.79 210.96 L79.45 209.9 L80.32 210.11 L80.77 211.47 L81.89 206.97 L81.65 207.77 L82.35 207.47 L83.11 200.77 L83.49 201.68 L83.9 203.35 L84.86 202.01 L85.42 199.92 L85.43 196.42 L86.02 198.18 L86.4 198.03 L86.77 197.21 L87.64 196.29 L88.05 192.87 L88.02 194.3 L89.1 191.04 L89.49 192.48 L90.13 189.15 L90.56 191.77 L90.91 192.95 L91.67 188.35 L91.8 190.35 L92.6 184.06 L92.95 186.49 L93.49 185.54 L93.7 184.51 L94.34 187.57 L94.59 182.13 L94.89 184.39 L95.62 176.97 L95.61 179.29 L95.69 174.27 L96.12 180.26 L96.26 174.25 L96.93 169.1 L97.54 174.77 L97.76 176.14 L97.62 172.17 L98.15 164.68 L98.73 166.83 L98.75 168.68 L99.38 167.28 L99.27 165.16 L99.78 167.45 L99.96 161.95 L100.34 170.22 L101.06 165.71 L101.01 162.24 L100.85 162.38 L100.98 160.82 L102.02 161.68 L102.18 158.41 L102.25 157.56 L102.5 151.86 L102.8 157.97 L103.18 153.87 L103.82 153.79 L103.83 145.69 L103.5 146.84 L104.86 149.22 L104.7 146.45 L104.65 147.99 L104.94 146.73 L104.94 146.1 L105.54 146.33 L105.45 145.94 L105.8 141.51 L105.89 141.27 L106.32 143.7 L106.43 137.3 L106.45 137.81 L106.75 143.81 L107.84 137.3 L109.13 141.31 L110.11 138.25 L111.67 140.21 L111.7 137.3 L112.18 138.72 L112.32 140.73 L112.6 139.18 L112.96 143.32 L113.04 146.15 L113.26 142.11 L113.59 151.37 L113.74 139.49 L113.23 150.01 L113.83 152.05 L114.09 148.56 L114.34 148.88 L114.24 151.19 L114.58 149.85 L114.91 152.89 L114.82 152.32 L115.4 155.39 L115.48 158.21 L115.4 156.95 L115.81 159.75 L115.32 157.14 L115.61 155.18 L116.05 157.09 L116.02 163.4 L115.88 162.93 L116.48 167.8 L116.07 170.85 L116.52 168.2 L116.68 167.16 L117.22 170.82 L116.46 167.33 L116.69 169.55 L116.76 172.28 L116.52 179.98 L116.51 176.4 L116.94 174.16 L116.47 175.81 L116.52 179.58 L116.59 173.03 L117.08 177.58 L116.72 181.22 L117.23 178.21 L117 182.8 L117.66 181.27 L117.59 188.58 L117.65 181.86 L117.3 183.81 L117.41 183.13 L118.09 189.2 L118.4 189.22 L117.88 192.65 L118.15 191.34 L118.76 192.37 L118.34 192.91 L118.95 196.03 L119.06 196.39 L119.42 197.36 L119.14 194.46 L119.29 198.89 L119.49 203.52 L119.66 203.09 L119.86 203.26 L120.06 204.14 L119.77 204.43 L120.17 208.33 L120.23 208.45 L120.18 207.21 L120.25 208.6 L120.65 208.26 L121.01 213.89 L120.97 210.71 L121.72 212.89 L121.08 214.84 L121.67 214.03 L122.12 214.36 L122.12 218.32 L122.41 218.73 L122.2 217.87 L122.32 221.8 L122.8 220.83 L123.39 222.09 L123.93 222.68 L123.64 223.87 L124.23 225.29 L125.23 227.02 L126.06 227.97 L126 228.77 L126.82 229.42 L127.49 229.74 L127.72 230.54 L128.6 231.5 L128.6 231.8Z" fill="#ededed" stroke="none"/>
<path d="M40 227.8 L41.13 227.03 L41.68 228.64 L43.45 226.81 L43.88 228.43 L45.11 228.95 L46.45 226.69 L47.29 227.07 L48.22 225.51 L48.52 226.48 L49.56 226.93 L50.79 225.31 L51.66 226.09 L52.76 225.94 L53.86 227.21 L55.42 225.91 L55.9 224.22 L56.65 225.53 L57.55 224.15 L59.08 225.03 L60.23 224.52 L60.99 224.51 L61.92 222.21 L62.53 223.77 L63.49 224.09 L64.62 222.57 L65.82 222.11 L66.56 222.77 L67.22 221.06 L68.55 220.61 L69.17 219.05 L69.94 220.16 L70.23 219.65 L71.7 219.87 L71.9 218.36 L72.71 217.52 L74.23 215.77 L74.95 216.1 L74.78 215.46 L75.53 214.54 L76.9 216.08 L77.51 211.13 L77.96 214 L78.48 208.01 L78.79 210.96 L79.45 209.9 L80.32 210.11 L80.77 211.47 L81.89 206.97 L81.65 207.77 L82.35 207.47 L83.11 200.77 L83.49 201.68 L83.9 203.35 L84.86 202.01 L85.42 199.92 L85.43 196.42 L86.02 198.18 L86.4 198.03 L86.77 197.21 L87.64 196.29 L88.05 192.87 L88.02 194.3 L89.1 191.04 L89.49 192.48 L90.13 189.15 L90.56 191.77 L90.91 192.95 L91.67 188.35 L91.8 190.35 L92.6 184.06 L92.95 186.49 L93.49 185.54 L93.7 184.51 L94.34 187.57 L94.59 182.13 L94.89 184.39 L95.62 176.97 L95.61 179.29 L95.69 174.27 L96.12 180.26 L96.26 174.25 L96.93 169.1 L97.54 174.77 L97.76 176.14 L97.62 172.17 L98.15 164.68 L98.73 166.83 L98.75 168.68 L99.38 167.28 L99.27 165.16 L99.78 167.45 L99.96 161.95 L100.34 170.22 L101.06 165.71 L101.01 162.24 L100.85 162.38 L100.98 160.82 L102.02 161.68 L102.18 158.41 L102.25 157.56 L102.5 151.86 L102.8 157.97 L103.18 153.87 L103.82 153.79 L103.83 145.69 L103.5 146.84 L104.86 149.22 L104.7 146.45 L104.65 147.99 L104.94 146.73 L104.94 146.1 L105.54 146.33 L105.45 145.94 L105.8 141.51 L105.89 141.27 L106.32 143.7 L106.43 137.3 L106.45 137.81 L106.75 143.81 L107.84 137.3 L109.13 141.31 L110.11 138.25 L111.67 140.21 L111.7 137.3 L112.18 138.72 L112.32 140.73 L112.6 139.18 L112.96 143.32 L113.04 146.15 L113.26 142.11 L113.59 151.37 L113.74 139.49 L113.23 150.01 L113.83 152.05 L114.09 148.56 L114.34 148.88 L114.24 151.19 L114.58 149.85 L114.91 152.89 L114.82 152.32 L115.4 155.39 L115.48 158.21 L115.4 156.95 L115.81 159.75 L115.32 157.14 L115.61 155.18 L116.05 157.09 L116.02 163.4 L115.88 162.93 L116.48 167.8 L116.07 170.85 L116.52 168.2 L116.68 167.16 L117.22 170.82 L116.46 167.33 L116.69 169.55 L116.76 172.28 L116.52 179.98 L116.51 176.4 L116.94 174.16 L116.47 175.81 L116.52 179.58 L116.59 173.03 L117.08 177.58 L116.72 181.22 L117.23 178.21 L117 182.8 L117.66 181.27 L117.59 188.58 L117.65 181.86 L117.3 183.81 L117.41 183.13 L118.09 189.2 L118.4 189.22 L117.88 192.65 L118.15 191.34 L118.76 192.37 L118.34 192.91 L118.95 196.03 L119.06 196.39 L119.42 197.36 L119.14 194.46 L119.29 198.89 L119.49 203.52 L119.66 203.09 L119.86 203.26 L120.06 204.14 L119.77 204.43 L120.17 208.33 L120.23 208.45 L120.18 207.21 L120.25 208.6 L120.65 208.26 L121.01 213.89 L120.97 210.71 L121.72 212.89 L121.08 214.84 L121.67 214.03 L122.12 214.36 L122.12 218.32 L122.41 218.73 L122.2 217.87 L122.32 221.8 L122.8 220.83 L123.39 222.09 L123.93 222.68 L123.64 223.87 L124.23 225.29 L125.23 227.02 L126.06 227.97 L126 228.77 L126.82 229.42 L127.49 229.74 L127.72 230.54 L128.6 231.5" fill="none" stroke="#ababab" stroke-width="1.5" stroke-linejoin="round"/>
<path d="M40 228.5 L41.01 227.87 L41.55 228.4 L43.27 227.89 L43.73 227.56 L44.87 228.76 L45.74 228.4 L47.2 227.76 L48.01 228.29 L49.17 227.82 L50.02 227.54 L50.78 227.42 L51.55 226.6 L53.32 226.94 L54.09 227.16 L54.9 226.78 L55.99 227.13 L56.55 227.61 L58.11 226.96 L59.01 225.92 L60.25 226.19 L61.03 225.62 L61.81 225.36 L62.98 225.64 L63.87 226.15 L65.09 225.21 L66.33 225.24 L67.26 224.02 L68.05 224.54 L68.61 225.57 L69.89 226.02 L70.79 223.64 L71.99 224.26 L72.81 224.46 L73.54 222.97 L74.41 222.23 L75.38 221.85 L76.61 220.86 L77.4 219.05 L78.18 218.26 L79.25 220.18 L80.04 218.81 L80.86 216.18 L80.88 216.26 L82.38 216.98 L82.28 216.26 L82.79 214.88 L83.46 214.07 L84.22 212.17 L84.66 211.37 L84.92 211.69 L85.92 211.56 L86.65 209.46 L87.4 209.48 L87.9 207.1 L88.59 206.55 L88.75 205.52 L89.3 205.2 L89.58 204.96 L89.99 203.37 L90.36 201.35 L91.3 200.53 L91.37 199.7 L91.92 198.93 L92.28 199.27 L92.84 199.44 L93.24 195.83 L94.04 197.15 L94.05 193.29 L94.76 191.13 L94.89 194.1 L95.24 191.34 L94.81 190.3 L95.43 189.59 L96.12 189.92 L95.84 187.09 L96.56 185.08 L96.69 185.05 L97.15 185.4 L97.37 183.61 L97.3 183.45 L97.68 184.14 L97.7 180.32 L98.25 178.68 L98.49 178.16 L98.58 180.07 L98.7 175.91 L98.98 176.63 L99.43 175.92 L99.6 171.83 L99.92 172.25 L99.95 173.55 L100.41 168.06 L100.67 169.12 L101 168.6 L101.07 168.28 L101.56 168.13 L101.54 165.28 L101.8 163.31 L102.02 163.99 L102.55 163.26 L102.19 160.18 L103.02 162.22 L103.52 159.14 L103.75 158.76 L103.63 157.43 L103.8 155.02 L104.18 156.61 L104.49 153.46 L104.53 154.49 L104.74 154.09 L105 152.97 L105 149.78 L105.39 149.56 L106.18 148.34 L106.43 146.72 L106.65 145.43 L106.72 148.48 L106.8 142.89 L106.74 141.24 L107.21 141.46 L107.88 140.9 L107.83 142.51 L108.04 137.35 L108.97 138.22 L110.63 137.3 L111.93 137.3 L113.17 137.3 L113.57 140.89 L113.55 138.18 L114.17 139.74 L114.76 143.29 L115.03 145.57 L115.05 143.36 L115.25 146.68 L115.69 144.58 L116 149.1 L116.06 149.1 L116.22 149 L116.56 149.76 L116.9 152.05 L116.86 151.48 L117.27 153.02 L117.51 155.8 L117.06 152.48 L117.26 159.55 L117.55 158.73 L118.1 161.26 L118.12 158.57 L118.57 159.39 L118.55 157.91 L118.21 160.88 L118.19 162.66 L118.92 162.48 L119.18 170.05 L118.9 169.04 L119.21 166.1 L119.34 165.92 L119.45 171.89 L119.87 170.44 L119.45 171.76 L119.76 171.5 L119.6 173.45 L119.78 173.92 L119.47 176.47 L120.06 177.94 L120.31 179.43 L120.15 175.05 L120.18 179.54 L120.31 180.62 L120.64 180.71 L120.64 184.3 L121.33 186.29 L121.14 183.61 L121.06 183.83 L121.25 184.47 L121.52 190.73 L121.74 190.51 L121.77 188.53 L122.07 190.9 L122.5 192.72 L121.83 189.56 L122.46 193.35 L122.04 192.62 L122.73 194.17 L122.55 197.36 L122.75 198.7 L122.96 199.07 L123.04 200.7 L123.16 201.14 L123.56 204.04 L123.43 203.72 L123.74 204.26 L124.01 206.93 L123.51 206.88 L123.97 207.94 L124.47 209.6 L124.97 209.69 L124.82 211.82 L125.01 212.57 L124.78 213.34 L125.48 215.01 L125.51 214.35 L125.71 215.74 L125.98 216.15 L126.4 217.65 L126.53 218.74 L126.93 219.47 L127.21 220.76 L127.86 221.82 L128.13 222.74 L128.31 223.73 L129.21 225.22 L130.62 225.52 L130.88 226.74 L131.72 226.62 L132.61 228.18 L132.88 229.19 L134.08 228.51 L135.25 229.38 L136.38 229.97 L136.88 230.03 L138.39 230.28 L139.02 231.34 L140 231.3" fill="none" stroke="#7d7d7d" stroke-width="1.5" stroke-linejoin="round"/>
<path d="M40 230 L41.08 229.7 L42.07 230.72 L42.72 229.83 L44.33 230.44 L45.48 230.04 L46.4 229.41 L47.37 229.24 L48.55 229.92 L49.53 228.85 L50.44 229.45 L51.48 230 L52.59 229.28 L53.43 229.99 L55.17 228.82 L55.7 230.01 L56.72 228.76 L58.48 229.49 L58.88 228.78 L59.89 229.26 L61.2 229.33 L62.38 227.94 L63.53 228.86 L64.67 228.32 L65.86 228.89 L66.75 228.26 L67.48 227.25 L68.52 226.97 L69.32 226.66 L70.46 226.8 L71.93 226.52 L72.63 226.04 L73.55 226.56 L74.63 225.5 L75.67 224.94 L76.97 224.78 L77.44 225.02 L78.42 222.5 L79 221.75 L80.31 221.45 L80.88 221.7 L81.81 222.03 L82.52 220.59 L83.34 218.97 L84.28 218.48 L85.19 218.53 L85.69 218.17 L86.31 215.43 L86.56 215.35 L87.37 214.42 L87.87 211.88 L88.46 211.29 L89.24 212.71 L89.47 211.25 L90.52 209.9 L91.23 208.21 L91.17 209.73 L92.44 207.39 L93.05 206.94 L92.96 205.16 L93.04 206.1 L93.91 203.72 L94.53 202.76 L94.49 203.57 L95.07 202.17 L95.68 200.72 L95.74 199.76 L95.71 199.77 L96.53 197.98 L96.94 196.65 L97.6 194.11 L97.83 196.01 L97.94 194.5 L98.22 193.98 L97.81 192.93 L99.13 189.64 L98.66 189.11 L99 187.11 L99.55 187.12 L99.69 185.73 L100.22 185.7 L100.2 184.43 L100.23 180.77 L100.92 180.17 L101.06 180.06 L101.44 180.02 L100.84 177.7 L101.99 175.94 L102.28 179.42 L102.28 176.77 L103.03 173.39 L103.56 174.33 L103.69 173.02 L103.9 169.65 L104.68 171.52 L104.72 170.73 L104.44 168.14 L105.36 168.84 L105.74 169.14 L105.68 168.15 L106.02 163.84 L106.37 163.66 L106.75 160.89 L106.99 161.35 L107.16 160.09 L107.36 162.65 L107.79 157.33 L107.77 155.73 L107.65 157.08 L107.69 154.86 L107.86 156.73 L108.21 154.92 L107.99 153.47 L108.22 151.88 L108.3 153.15 L108.07 152.01 L109.39 148.56 L109.94 144.85 L110.99 145.53 L111.02 146.79 L111.58 146.09 L111.87 144.33 L111.91 143.33 L113.01 140.62 L113.66 140.75 L115.4 141.43 L115.63 141.44 L116.25 143.15 L115.75 147.79 L116.98 148.76 L116.91 143.79 L117.23 146.38 L117.45 144 L117.58 152.77 L118.04 150.29 L117.67 150.82 L117.99 151.76 L118.04 155 L117.97 157.72 L118.01 156.57 L118.07 158.09 L118.55 155.71 L118.58 158.78 L118.92 163.45 L119.45 161.93 L118.63 161.35 L119.14 162.41 L118.79 165.78 L119.35 165.9 L119.32 168.79 L119.99 167.61 L119.76 165.73 L119.74 172.05 L119.97 170.4 L120.23 170.89 L120.14 173.69 L120.07 174.17 L119.97 174.54 L120.65 177.57 L120.84 172.2 L120.86 177.44 L121.51 179.99 L121.01 182.79 L121.62 182.15 L121.42 181.42 L121.6 183.1 L121.48 187.27 L121.76 183.48 L121.89 186.39 L122.63 185.66 L122.8 185.59 L123.17 188.27 L122.97 190.29 L123.46 191.33 L123.88 193.34 L124.07 193.93 L124 193.31 L124.47 195.72 L124.2 195.39 L124.89 195.1 L124.93 199.99 L124.6 198.33 L124.62 200.22 L125.17 201.44 L125.63 202.49 L125.66 203.19 L125.43 203.93 L125.85 204.98 L126.24 205.45 L126.45 205.28 L127.3 206.77 L126.58 208.54 L126.99 208.75 L127.16 210.17 L127.36 212.84 L127.36 211.7 L127.72 216 L127.75 214.92 L128.19 216.38 L128.35 217.27 L128.39 218.01 L128.82 217.88 L129.46 219.85 L129.83 221.35 L130.25 222.39 L130.55 222.15 L130.69 225.11 L131.54 225.25 L131.79 226.49 L132.7 226.76 L132.92 228.1 L134.07 228.06 L135.31 227.95 L136.06 228.53 L136.76 229.76 L137.86 229.7 L138.82 229.47 L139.5 230.61 L140.77 231.07 L141.69 231 L142.84 231.5 L143.55 230.86 L145 231.5" fill="none" stroke="#000" stroke-width="1.8" stroke-linejoin="round"/>
<path d="M261.7 228.9 L262 222.3 L263.51 221.09 L264.08 221.87 L265.83 221.05 L266.33 220.52 L267.51 222.33 L268.4 221.76 L269.9 220.75 L270.81 221.49 L272.07 220.72 L273.02 220.21 L273.88 220.02 L274.75 218.74 L276.62 219.25 L277.49 219.58 L278.26 218.86 L279.31 219.27 L279.84 219.88 L281.36 218.74 L282.22 216.98 L283.42 217.26 L284.17 216.23 L284.91 215.7 L286.04 215.97 L286.89 216.62 L288.08 214.95 L289.28 214.82 L290.17 212.68 L290.92 213.35 L291.45 214.86 L292.69 215.43 L293.36 211 L294.42 212.3 L295.11 212.85 L295.71 210.71 L296.45 209.77 L297.28 209.39 L298.38 208.01 L299.05 205.39 L299.71 204.35 L300.65 207.39 L300.98 205.26 L301.62 201.55 L301.47 201.87 L302.79 203.13 L302.52 202.25 L302.98 200.49 L303.58 199.56 L304.29 197.07 L304.67 196.18 L304.87 196.87 L305.81 196.91 L306.49 194.16 L307.18 194.4 L307.63 191.29 L308.44 190.92 L308.73 189.87 L309.4 189.8 L309.61 189.8 L309.94 187.96 L310.24 185.55 L311.11 184.75 L311.12 183.95 L311.59 183.23 L311.88 183.98 L312.37 184.49 L312.69 180 L313.43 182.03 L313.36 177.24 L314 174.69 L314.22 178.93 L314.53 175.65 L314.05 174.62 L314.63 174.01 L315.27 174.74 L314.95 171.4 L315.63 169.12 L315.72 169.38 L316.13 170.11 L316.31 168.13 L316.24 168.21 L316.6 169.36 L316.62 164.8 L317.16 163 L317.39 162.62 L317.48 165.3 L317.58 160.17 L317.85 161.17 L318.29 160.37 L318.41 155.34 L318.69 155.98 L318.73 157.91 L319.21 151.33 L319.49 152.95 L319.83 152.59 L319.91 152.49 L320.42 152.59 L320.41 149.33 L320.69 147.18 L320.92 148.31 L321.46 147.69 L321.12 144.17 L321.96 146.95 L322.51 143.48 L322.78 143.33 L322.94 142.05 L323.38 139.46 L324.02 141.76 L324.61 138.27 L324.91 139.88 L325.39 139.74 L325.92 138.72 L326.69 135.61 L327.85 136.1 L329.41 135.38 L330.43 135.2 L331.4 135.42 L332.22 140.73 L332.47 136.49 L332.57 136.89 L333.21 139.42 L334.04 141.04 L334.16 145.04 L334.54 141.6 L334.38 144.41 L334.94 143.37 L335.14 144.53 L335.28 142.66 L335.48 150.77 L335.26 147.86 L335.67 149.46 L336.06 153.16 L336.13 155.52 L335.94 153.14 L335.95 156.58 L336.34 154.38 L336.6 159.1 L336.59 159.08 L336.68 158.97 L336.96 159.74 L337.22 162.11 L337.11 161.51 L337.46 163.11 L337.62 165.98 L337.1 162.54 L337.29 169.85 L337.55 169 L338.09 171.6 L338.09 168.82 L338.52 169.67 L338.43 168.18 L338.02 171.24 L337.93 173.09 L338.59 172.94 L338.78 180.67 L338.48 179.66 L338.77 176.71 L338.88 176.58 L338.97 182.63 L339.37 181.21 L338.93 182.57 L339.22 182.36 L339.04 184.35 L339.2 184.88 L338.87 187.46 L339.55 188.92 L339.89 190.39 L339.83 186.1 L339.92 190.46 L340.12 191.46 L340.5 191.5 L340.56 194.95 L341.32 196.82 L341.18 194.19 L341.17 194.37 L341.42 194.95 L341.74 200.92 L342.03 200.68 L342.12 198.77 L342.48 201 L342.97 202.72 L342.43 199.78 L343.18 203.34 L342.89 202.7 L343.71 204.17 L343.66 207.13 L343.98 208.39 L344.32 208.77 L344.53 210.29 L344.78 210.74 L345.3 213.36 L345.31 213.16 L345.74 213.72 L346.14 216.08 L345.91 216.15 L346.55 217.18 L347.23 218.69 L347.91 218.95 L347.95 220.8 L348.32 221.58 L348.28 222.38 L349.15 223.81 L349.36 223.68 L349.75 224.92 L350.64 225.27 L351.68 226.26 L352.25 226.99 L353.09 227.56 L354 228.5 L354 228.9Z" fill="#ededed" stroke="none"/>
<path d="M262 222.3 L263.51 221.09 L264.08 221.87 L265.83 221.05 L266.33 220.52 L267.51 222.33 L268.4 221.76 L269.9 220.75 L270.81 221.49 L272.07 220.72 L273.02 220.21 L273.88 220.02 L274.75 218.74 L276.62 219.25 L277.49 219.58 L278.26 218.86 L279.31 219.27 L279.84 219.88 L281.36 218.74 L282.22 216.98 L283.42 217.26 L284.17 216.23 L284.91 215.7 L286.04 215.97 L286.89 216.62 L288.08 214.95 L289.28 214.82 L290.17 212.68 L290.92 213.35 L291.45 214.86 L292.69 215.43 L293.36 211 L294.42 212.3 L295.11 212.85 L295.71 210.71 L296.45 209.77 L297.28 209.39 L298.38 208.01 L299.05 205.39 L299.71 204.35 L300.65 207.39 L300.98 205.26 L301.62 201.55 L301.47 201.87 L302.79 203.13 L302.52 202.25 L302.98 200.49 L303.58 199.56 L304.29 197.07 L304.67 196.18 L304.87 196.87 L305.81 196.91 L306.49 194.16 L307.18 194.4 L307.63 191.29 L308.44 190.92 L308.73 189.87 L309.4 189.8 L309.61 189.8 L309.94 187.96 L310.24 185.55 L311.11 184.75 L311.12 183.95 L311.59 183.23 L311.88 183.98 L312.37 184.49 L312.69 180 L313.43 182.03 L313.36 177.24 L314 174.69 L314.22 178.93 L314.53 175.65 L314.05 174.62 L314.63 174.01 L315.27 174.74 L314.95 171.4 L315.63 169.12 L315.72 169.38 L316.13 170.11 L316.31 168.13 L316.24 168.21 L316.6 169.36 L316.62 164.8 L317.16 163 L317.39 162.62 L317.48 165.3 L317.58 160.17 L317.85 161.17 L318.29 160.37 L318.41 155.34 L318.69 155.98 L318.73 157.91 L319.21 151.33 L319.49 152.95 L319.83 152.59 L319.91 152.49 L320.42 152.59 L320.41 149.33 L320.69 147.18 L320.92 148.31 L321.46 147.69 L321.12 144.17 L321.96 146.95 L322.51 143.48 L322.78 143.33 L322.94 142.05 L323.38 139.46 L324.02 141.76 L324.61 138.27 L324.91 139.88 L325.39 139.74 L325.92 138.72 L326.69 135.61 L327.85 136.1 L329.41 135.38 L330.43 135.2 L331.4 135.42 L332.22 140.73 L332.47 136.49 L332.57 136.89 L333.21 139.42 L334.04 141.04 L334.16 145.04 L334.54 141.6 L334.38 144.41 L334.94 143.37 L335.14 144.53 L335.28 142.66 L335.48 150.77 L335.26 147.86 L335.67 149.46 L336.06 153.16 L336.13 155.52 L335.94 153.14 L335.95 156.58 L336.34 154.38 L336.6 159.1 L336.59 159.08 L336.68 158.97 L336.96 159.74 L337.22 162.11 L337.11 161.51 L337.46 163.11 L337.62 165.98 L337.1 162.54 L337.29 169.85 L337.55 169 L338.09 171.6 L338.09 168.82 L338.52 169.67 L338.43 168.18 L338.02 171.24 L337.93 173.09 L338.59 172.94 L338.78 180.67 L338.48 179.66 L338.77 176.71 L338.88 176.58 L338.97 182.63 L339.37 181.21 L338.93 182.57 L339.22 182.36 L339.04 184.35 L339.2 184.88 L338.87 187.46 L339.55 188.92 L339.89 190.39 L339.83 186.1 L339.92 190.46 L340.12 191.46 L340.5 191.5 L340.56 194.95 L341.32 196.82 L341.18 194.19 L341.17 194.37 L341.42 194.95 L341.74 200.92 L342.03 200.68 L342.12 198.77 L342.48 201 L342.97 202.72 L342.43 199.78 L343.18 203.34 L342.89 202.7 L343.71 204.17 L343.66 207.13 L343.98 208.39 L344.32 208.77 L344.53 210.29 L344.78 210.74 L345.3 213.36 L345.31 213.16 L345.74 213.72 L346.14 216.08 L345.91 216.15 L346.55 217.18 L347.23 218.69 L347.91 218.95 L347.95 220.8 L348.32 221.58 L348.28 222.38 L349.15 223.81 L349.36 223.68 L349.75 224.92 L350.64 225.27 L351.68 226.26 L352.25 226.99 L353.09 227.56 L354 228.5" fill="none" stroke="#ababab" stroke-width="1.5" stroke-linejoin="round"/>
<path d="M262 224.5 L263.12 223.88 L264.14 225.13 L264.83 223.66 L266.47 224.35 L267.66 223.58 L268.61 222.43 L269.62 221.97 L270.84 222.86 L271.85 221.07 L272.8 221.84 L273.87 222.55 L275.02 221.27 L275.9 222.25 L277.67 220.24 L278.23 222.05 L279.28 219.97 L281.07 221.05 L281.5 219.84 L282.54 220.52 L283.88 220.56 L285.09 218.26 L286.14 219.38 L287.16 218.16 L288.25 218.75 L289.08 217.71 L289.76 216.08 L290.74 215.62 L291.49 215.1 L292.56 215.29 L293.94 214.65 L294.54 213.7 L295.36 214.3 L296.35 212.46 L297.28 211.38 L298.34 210.87 L298.76 211.54 L299.68 208.07 L300.21 207.27 L301.29 206.96 L301.63 207.41 L302.33 207.94 L302.81 206 L303.4 203.82 L304.01 203.11 L304.59 203.13 L305 202.74 L305.55 199.15 L305.71 199.13 L306.44 197.99 L306.86 194.73 L307.33 194.11 L308 196.09 L308.12 194.32 L309.05 192.71 L309.65 190.68 L309.48 192.7 L310.64 189.86 L311.21 189.54 L311.09 187.57 L311.13 188.95 L311.96 186.24 L312.54 185.29 L312.46 186.47 L313 184.97 L313.57 183.42 L313.59 182.45 L313.52 182.65 L314.3 180.69 L314.68 179.29 L315.3 176.46 L315.37 178.88 L315.45 177.28 L315.7 176.84 L315.27 175.79 L316.57 172.15 L316.07 171.7 L316.39 169.57 L316.92 169.74 L317.05 168.31 L317.57 168.43 L317.54 167.14 L317.56 163.13 L318.23 162.6 L318.37 162.62 L318.74 162.72 L318.01 160.02 L319.03 157.94 L319.19 161.78 L319.06 158.7 L319.68 154.81 L320.14 155.97 L320.22 154.69 L320.38 151.1 L321.11 153.38 L321.11 152.68 L320.78 149.98 L321.65 150.94 L321.98 151.44 L321.86 150.51 L322.16 145.92 L322.46 145.89 L322.8 143 L323.16 143.65 L323.46 142.4 L324.01 145.39 L324.79 139.74 L325.16 138.17 L325.42 139.83 L325.86 137.58 L326.41 139.8 L327.16 138 L327.83 136.94 L328.94 135.73 L329.91 137.61 L330.32 138.12 L331.72 136.19 L332.36 135 L333.49 136.47 L333.54 139.88 L334.13 141.26 L334.44 141.57 L334.51 142.65 L335.26 142.3 L335.31 144.68 L335.71 145.89 L335.72 145.86 L336.11 147.46 L335.39 151.87 L336.4 152.75 L336.14 147.83 L336.26 150.15 L336.5 147.96 L336.66 156.46 L337.14 154.16 L336.8 154.77 L337.13 155.75 L337.21 158.93 L337.16 161.61 L337.22 160.6 L337.31 162.13 L337.82 159.95 L337.87 162.96 L338.23 167.48 L338.78 166.12 L338 165.61 L338.55 166.65 L338.24 169.89 L338.83 170.04 L338.84 172.81 L339.49 171.75 L339.25 170.04 L339.22 176.06 L339.43 174.56 L339.68 175.09 L339.57 177.79 L339.48 178.3 L339.37 178.71 L340.02 181.61 L340.18 176.64 L340.16 181.61 L340.77 184.05 L340.24 186.71 L340.82 186.18 L340.58 185.56 L340.82 187.15 L340.75 191.03 L340.95 187.61 L340.99 190.39 L341.65 189.81 L341.74 189.84 L342.03 192.4 L341.74 194.35 L342.14 195.4 L342.58 197.32 L342.79 197.96 L342.74 197.5 L343.23 199.78 L342.98 199.6 L343.69 199.45 L343.74 203.95 L343.49 202.58 L343.57 204.38 L344.18 205.59 L344.7 206.63 L344.79 207.39 L344.62 208.17 L345.1 209.22 L345.56 209.78 L345.83 209.79 L346.69 211.2 L345.98 212.84 L346.4 213.17 L346.59 214.51 L346.97 216.81 L347.16 216.01 L347.69 219.58 L347.91 218.86 L348.52 220.15 L348.87 220.99 L349.09 221.73 L349.52 221.82 L350.16 223.44 L350.53 224.71 L351.46 225.36 L352.29 225.18 L352.94 227.07 L354.09 227.31 L354.63 228.21 L356 228.5" fill="none" stroke="#7d7d7d" stroke-width="1.5" stroke-linejoin="round"/>
<path d="M262 226 L263.19 225.19 L264.39 224.84 L265.45 225.24 L266.93 224.82 L267.92 225.17 L269.03 223.96 L270.17 224.27 L270.72 224.56 L271.96 223.94 L273.19 223.63 L274 221.95 L275.58 223 L276.48 222.7 L277.88 222.94 L278.46 223.06 L279.21 222.3 L280.47 222.12 L282.07 222.89 L282.94 221.37 L283.86 221.96 L285.31 221.73 L286.12 221.94 L287.09 219.52 L288.29 220.06 L289.05 219.36 L289.24 218.53 L290.49 217.71 L291.27 217.45 L292.45 217.09 L293.17 217.18 L294.23 215.57 L295.46 215.75 L295.97 214.79 L297.19 212.76 L298.11 212.45 L299.23 214.16 L300.54 212.61 L301.06 209.83 L302.29 210.17 L303.63 211.42 L304.07 210.2 L304.04 208.01 L304.77 207.24 L305.78 208.27 L305.82 204.11 L305.82 204.04 L306.95 202.6 L307.73 202.39 L307.82 201.79 L308.48 199.48 L309.35 199.08 L309.66 197.77 L309.87 199.15 L310.11 196.44 L311.13 194.41 L311.88 194.72 L312.29 192.75 L312.57 191.34 L313.13 191.05 L313.41 189.09 L313.95 188.24 L314.54 190.54 L314.77 186.48 L314.74 187.36 L315.25 187.03 L315.13 184.74 L315.35 184.5 L315.89 181.02 L316.18 182.59 L316.43 181.32 L316.53 177.69 L316.52 179.33 L317.3 178.65 L317.54 177.24 L317.46 174.76 L317.45 176.13 L318.06 174.25 L318.39 176.72 L318.57 172.01 L318.96 169.49 L318.84 169.66 L318.93 172.13 L319.76 166.39 L319.9 167.87 L320.58 165.01 L320.75 164.86 L320.73 166.94 L320.77 161.87 L321.35 160.38 L321.75 156.86 L321.94 159.58 L321.92 156.31 L322.54 159.08 L322.32 160.45 L322.79 154.26 L322.91 154.45 L323.25 155.18 L323.2 151.33 L324.1 152.61 L323.83 152.01 L324.67 148.63 L324.38 151.31 L324.76 147.41 L325.23 147.74 L325.44 144.96 L325.89 147.75 L326.31 141.88 L326.75 143.11 L326.56 142.83 L327.66 141.23 L327.79 142.14 L328.27 138.38 L328.76 140 L328.98 135.48 L330.05 135.17 L330.43 138.06 L330.72 135 L331.11 136.12 L331.97 137.55 L332.36 136.6 L332.58 137.59 L333.46 144.62 L333.9 138.85 L334.09 140.29 L334.85 143.03 L335.33 144.04 L335.54 146.18 L336.1 147 L335.81 149.01 L335.85 146.06 L336.27 145.07 L336.08 150.65 L336.14 151.87 L336.57 151.28 L336.97 153.47 L337.02 154.51 L337.13 152.28 L337.09 154.99 L337.12 157.47 L337.82 158.83 L338.02 160.77 L337.54 162.21 L337.94 158.96 L337.71 166.34 L337.69 163.47 L338.1 163.49 L338.64 165.58 L338.23 165.15 L338.5 170.79 L338.88 165.22 L338.85 167.51 L339.13 170.98 L339.52 171.35 L339.6 173.66 L339.44 174.23 L339.86 177.13 L339.93 173.54 L340.63 176.73 L339.79 177.84 L340.08 179.59 L340.56 179.79 L341.15 181.24 L341.06 183.41 L341.31 181.86 L341.13 182.89 L341.57 182.65 L342.27 186.13 L341.94 183.78 L342.19 188.26 L342.61 187.72 L342.45 189.81 L342.62 192.23 L342.81 191.38 L343.01 195.77 L343.56 194.44 L343.14 195.3 L344.18 196.26 L343.86 199.14 L344.1 198.33 L344.16 199.96 L345.14 202.24 L344.82 201.74 L344.83 202.42 L345.09 202.36 L345.74 203.43 L345.78 204.15 L345.47 204.59 L345.68 207.46 L345.8 207.73 L346.1 209.44 L346.64 209.73 L346.58 211.53 L346.48 211.83 L347.11 212.47 L347.11 213.85 L347.16 215.57 L347.51 215.95 L347.85 218.01 L348.98 217.75 L349.32 220.2 L349.66 220.51 L350.32 220.18 L350.71 221.69 L351.75 222.68 L351.92 222.34 L353.23 223.8 L354.15 224.49 L354.61 225.46 L356.02 226.83 L356.84 226.82 L357.67 227.45 L358.7 228.5" fill="none" stroke="#000" stroke-width="1.8" stroke-linejoin="round"/>
<path d="M38.1 354.7 L37.8 343 L39.22 342.58 L39.21 345.39 L38.86 345.06 L39.47 347.06 L39.63 347.58 L39.54 347.85 L39.52 348.78 L39.71 350.65 L39.69 350.7 L39.6 352.36 L40.62 352.87 L41.72 352.36 L42.55 352.98 L44.27 352.13 L44.73 353.04 L45.68 352.05 L47.37 352.61 L47.7 352.04 L48.64 352.4 L49.88 352.44 L50.99 351.34 L52.07 352.04 L53.14 351.56 L54.26 351.94 L55.13 351.54 L55.84 350.86 L56.86 350.75 L57.65 350.6 L58.76 350.79 L60.22 350.66 L60.97 350.22 L61.95 350.51 L63.08 349.64 L64.17 349.13 L65.52 348.91 L66.24 349.28 L67.46 347.62 L68.12 346.98 L69.51 346.67 L70.16 346.77 L71.17 346.92 L71.96 345.78 L72.86 344.51 L73.88 344.06 L74.87 344.02 L75.69 343.75 L76.65 341.73 L77.06 341.51 L78.04 340.67 L78.71 338.63 L79.46 338.04 L80.41 338.95 L80.8 337.7 L82.02 336.54 L82.89 335.13 L83 336.12 L84.44 334.22 L85.21 333.77 L85.3 332.33 L85.54 332.94 L86.58 331.04 L87.36 330.22 L87.49 330.73 L88.19 329.34 L88.92 327.92 L89.1 326.87 L89.19 326.56 L90.13 324.87 L90.49 323.6 L91.1 321.38 L91.28 322.61 L91.49 321.2 L91.85 320.55 L91.54 319.5 L92.89 316.72 L92.44 316.08 L92.81 314.31 L93.38 314.09 L93.56 312.79 L94.14 312.55 L94.09 311.34 L94.09 308.26 L94.75 307.56 L94.87 307.26 L95.22 307.01 L94.49 304.94 L95.44 303.3 L95.53 305.79 L95.33 303.45 L95.88 300.53 L96.21 301.03 L96.17 299.8 L96.26 296.94 L96.92 298.24 L96.85 297.43 L96.46 295.19 L97.26 295.56 L97.53 295.61 L97.35 294.64 L97.57 291.04 L97.81 290.71 L98.08 288.32 L98.38 288.49 L98.62 287.27 L98.88 289.1 L99.38 284.67 L99.46 283.19 L99.47 284.07 L99.65 282.11 L99.95 283.41 L100.44 281.77 L100.35 280.42 L100.72 278.96 L100.93 279.78 L100.84 278.68 L101.73 275.73 L101.86 272.58 L102.49 272.92 L102.46 273.72 L102.95 272.95 L103.18 271.33 L103.16 270.32 L103.82 268.13 L104.03 268.22 L104.59 267.36 L104.75 265.44 L105.36 264.98 L104.85 266.98 L106.08 265.94 L106.69 261.8 L107.68 261.81 L108.79 261.8 L109.82 265.61 L110.32 263.59 L109.99 264.18 L110.35 265.11 L110.44 268.05 L110.41 270.53 L110.49 269.67 L110.59 271.11 L111.15 269.24 L111.24 272.12 L111.65 276.38 L112.25 275.26 L111.52 274.91 L112.11 275.99 L111.79 279.06 L112.38 279.29 L112.38 281.94 L113.08 281.03 L112.88 279.51 L112.89 285.17 L113.15 283.84 L113.44 284.39 L113.39 286.98 L113.34 287.51 L113.28 287.96 L113.97 290.74 L114.18 286.1 L114.19 290.8 L114.84 293.13 L114.34 295.68 L114.95 295.17 L114.75 294.58 L114.93 296.14 L114.81 299.94 L114.95 296.65 L114.94 299.38 L115.55 298.83 L115.58 298.88 L115.82 301.41 L115.48 303.34 L115.82 304.39 L116.21 306.33 L116.43 306.96 L116.39 306.49 L116.9 308.79 L116.65 308.59 L117.38 308.41 L117.44 313.02 L117.15 311.56 L117.2 313.4 L117.79 314.62 L118.27 315.68 L118.34 316.42 L118.14 317.18 L118.59 318.24 L119.01 318.75 L119.25 318.64 L120.07 320.09 L119.32 321.81 L119.71 322.02 L119.85 323.41 L120.03 326.04 L120.01 324.9 L120.33 329.19 L120.34 328.08 L120.75 329.53 L120.89 330.4 L120.9 331.12 L121.13 330.86 L121.56 332.83 L121.85 334.35 L122.18 335.35 L122.41 334.86 L122.46 338.13 L123.01 338.35 L122.96 339.92 L123.57 340.27 L123.48 342.02 L124.33 341.89 L124.91 342.16 L125.01 343.43 L125.26 345.5 L125.91 345.7 L126.39 345.88 L126.6 348.08 L127.39 349.27 L127.84 349.69 L128.51 351.08 L128.75 350.54 L129.88 351.69 L130.98 352.66 L131.92 353.11 L132.7 354 L132.7 354.7Z" fill="#ededed" stroke="none"/>
<path d="M37.8 343 L39.22 342.58 L39.21 345.39 L38.86 345.06 L39.47 347.06 L39.63 347.58 L39.54 347.85 L39.52 348.78 L39.71 350.65 L39.69 350.7 L39.6 352.36 L40.62 352.87 L41.72 352.36 L42.55 352.98 L44.27 352.13 L44.73 353.04 L45.68 352.05 L47.37 352.61 L47.7 352.04 L48.64 352.4 L49.88 352.44 L50.99 351.34 L52.07 352.04 L53.14 351.56 L54.26 351.94 L55.13 351.54 L55.84 350.86 L56.86 350.75 L57.65 350.6 L58.76 350.79 L60.22 350.66 L60.97 350.22 L61.95 350.51 L63.08 349.64 L64.17 349.13 L65.52 348.91 L66.24 349.28 L67.46 347.62 L68.12 346.98 L69.51 346.67 L70.16 346.77 L71.17 346.92 L71.96 345.78 L72.86 344.51 L73.88 344.06 L74.87 344.02 L75.69 343.75 L76.65 341.73 L77.06 341.51 L78.04 340.67 L78.71 338.63 L79.46 338.04 L80.41 338.95 L80.8 337.7 L82.02 336.54 L82.89 335.13 L83 336.12 L84.44 334.22 L85.21 333.77 L85.3 332.33 L85.54 332.94 L86.58 331.04 L87.36 330.22 L87.49 330.73 L88.19 329.34 L88.92 327.92 L89.1 326.87 L89.19 326.56 L90.13 324.87 L90.49 323.6 L91.1 321.38 L91.28 322.61 L91.49 321.2 L91.85 320.55 L91.54 319.5 L92.89 316.72 L92.44 316.08 L92.81 314.31 L93.38 314.09 L93.56 312.79 L94.14 312.55 L94.09 311.34 L94.09 308.26 L94.75 307.56 L94.87 307.26 L95.22 307.01 L94.49 304.94 L95.44 303.3 L95.53 305.79 L95.33 303.45 L95.88 300.53 L96.21 301.03 L96.17 299.8 L96.26 296.94 L96.92 298.24 L96.85 297.43 L96.46 295.19 L97.26 295.56 L97.53 295.61 L97.35 294.64 L97.57 291.04 L97.81 290.71 L98.08 288.32 L98.38 288.49 L98.62 287.27 L98.88 289.1 L99.38 284.67 L99.46 283.19 L99.47 284.07 L99.65 282.11 L99.95 283.41 L100.44 281.77 L100.35 280.42 L100.72 278.96 L100.93 279.78 L100.84 278.68 L101.73 275.73 L101.86 272.58 L102.49 272.92 L102.46 273.72 L102.95 272.95 L103.18 271.33 L103.16 270.32 L103.82 268.13 L104.03 268.22 L104.59 267.36 L104.75 265.44 L105.36 264.98 L104.85 266.98 L106.08 265.94 L106.69 261.8 L107.68 261.81 L108.79 261.8 L109.82 265.61 L110.32 263.59 L109.99 264.18 L110.35 265.11 L110.44 268.05 L110.41 270.53 L110.49 269.67 L110.59 271.11 L111.15 269.24 L111.24 272.12 L111.65 276.38 L112.25 275.26 L111.52 274.91 L112.11 275.99 L111.79 279.06 L112.38 279.29 L112.38 281.94 L113.08 281.03 L112.88 279.51 L112.89 285.17 L113.15 283.84 L113.44 284.39 L113.39 286.98 L113.34 287.51 L113.28 287.96 L113.97 290.74 L114.18 286.1 L114.19 290.8 L114.84 293.13 L114.34 295.68 L114.95 295.17 L114.75 294.58 L114.93 296.14 L114.81 299.94 L114.95 296.65 L114.94 299.38 L115.55 298.83 L115.58 298.88 L115.82 301.41 L115.48 303.34 L115.82 304.39 L116.21 306.33 L116.43 306.96 L116.39 306.49 L116.9 308.79 L116.65 308.59 L117.38 308.41 L117.44 313.02 L117.15 311.56 L117.2 313.4 L117.79 314.62 L118.27 315.68 L118.34 316.42 L118.14 317.18 L118.59 318.24 L119.01 318.75 L119.25 318.64 L120.07 320.09 L119.32 321.81 L119.71 322.02 L119.85 323.41 L120.03 326.04 L120.01 324.9 L120.33 329.19 L120.34 328.08 L120.75 329.53 L120.89 330.4 L120.9 331.12 L121.13 330.86 L121.56 332.83 L121.85 334.35 L122.18 335.35 L122.41 334.86 L122.46 338.13 L123.01 338.35 L122.96 339.92 L123.57 340.27 L123.48 342.02 L124.33 341.89 L124.91 342.16 L125.01 343.43 L125.26 345.5 L125.91 345.7 L126.39 345.88 L126.6 348.08 L127.39 349.27 L127.84 349.69 L128.51 351.08 L128.75 350.54 L129.88 351.69 L130.98 352.66 L131.92 353.11 L132.7 354" fill="none" stroke="#ababab" stroke-width="1.5" stroke-linejoin="round"/>
<path d="M38.5 354.2 L39.22 354 L40.42 353.9 L41.48 354.22 L42.95 354.07 L43.95 354.36 L45.05 353.79 L46.19 354.04 L46.67 354.31 L47.84 354.08 L49 354.03 L49.75 353.29 L51.26 353.92 L52.09 353.88 L53.42 354.09 L53.93 354.21 L54.61 353.91 L55.81 353.89 L57.35 354.31 L58.17 353.65 L59.02 353.98 L60.42 353.93 L61.23 354.24 L62.22 353.36 L63.42 353.81 L64.47 353.82 L64.96 353.79 L66.5 353.75 L67.57 353.93 L68.84 353.84 L69.64 353.93 L70.78 353.34 L72.1 353.46 L72.64 353.16 L73.88 352.43 L74.83 352.39 L75.86 353.29 L77.08 352.85 L77.7 351.96 L79 352.12 L80.43 352.7 L81.44 352.32 L81.97 351.5 L83.26 351.31 L84.83 351.92 L85.44 350.2 L86.01 350.32 L87.7 349.81 L88.95 349.86 L89.31 349.37 L90.23 348.04 L91.36 347.65 L91.94 346.8 L92.41 347.38 L92.91 345.77 L94.36 344.5 L95.54 344.54 L96.39 343.28 L96.68 342.03 L97.27 341.44 L97.56 339.84 L98.12 338.91 L98.73 340.01 L98.98 337.03 L98.97 337.26 L99.65 336.74 L99.7 334.91 L100.09 334.46 L100.8 331.78 L101.16 332.61 L101.48 331.47 L101.64 328.64 L101.7 329.57 L102.54 328.85 L102.85 327.6 L102.83 325.56 L102.89 326.35 L103.54 324.63 L103.91 326.17 L104.13 322.29 L104.52 320.06 L104.42 319.88 L104.51 321.5 L105.35 316.74 L105.43 317.69 L106.07 315.22 L106.18 314.89 L106.11 316.34 L106.09 312.1 L106.65 310.7 L107.02 307.67 L107.19 309.66 L107.07 306.81 L107.59 308.88 L107.27 309.82 L107.64 304.57 L107.66 304.55 L107.86 304.94 L107.67 301.56 L108.43 302.42 L108.19 301.76 L109.07 298.8 L108.81 300.88 L109.22 297.46 L109.72 297.59 L109.96 295.09 L110.45 297.31 L110.9 292.19 L111.34 293 L110.95 292.47 L111.85 290.81 L111.79 291.3 L112.07 287.79 L112.37 288.9 L112.25 284.67 L112.97 284.08 L113.01 286.27 L112.96 282.01 L112.99 282.4 L113.49 281.8 L113.53 279.05 L113.39 278.04 L113.91 282.63 L114.11 275.42 L114.07 274.92 L114.59 275.66 L114.83 274.77 L115.13 274.85 L115.77 273.64 L115.58 273.63 L115.7 268.58 L116.25 265.48 L116.18 269.19 L116.37 268.41 L116.92 265.7 L117.45 265.95 L117.62 264.98 L117.86 261.8 L118.95 262.23 L119.02 264.97 L119.79 266.46 L120.06 268.6 L119.65 270.19 L120.13 266.42 L119.98 274.6 L120.05 271.25 L120.54 271.14 L121.16 273.38 L120.83 272.77 L121.18 279.03 L121.64 272.57 L121.61 275 L121.88 278.78 L122.22 278.97 L122.25 281.38 L122.03 281.8 L122.4 284.91 L122.41 280.51 L123.06 283.95 L122.17 285 L122.4 286.78 L122.83 286.75 L123.35 288.27 L123.32 290.66 L123.63 288.67 L123.51 289.72 L124.01 289.27 L124.77 293.24 L124.5 290.24 L124.81 295.45 L125.29 294.61 L125.19 296.95 L125.42 299.7 L125.55 298.49 L125.7 303.7 L126.19 301.9 L125.72 302.78 L126.7 303.77 L126.32 307.18 L126.51 305.97 L126.52 307.81 L127.44 310.5 L127.06 309.57 L127.02 310.16 L127.24 309.79 L127.85 310.88 L127.85 311.52 L127.5 311.77 L127.67 315.26 L127.76 315.29 L128.01 317.26 L128.52 317.3 L128.42 319.41 L128.31 319.44 L128.93 319.92 L128.93 321.48 L128.98 323.55 L129.05 323.75 L129.11 326.52 L129.96 325.7 L130.02 329.16 L130.08 329.23 L130.46 328.14 L130.58 330.16 L130.97 331.52 L130.5 330.38 L131.17 332.6 L131.68 333.36 L131.73 334.71 L132.55 337.22 L132.78 336.46 L133.01 337.1 L133.31 339.07 L133.61 338.94 L134.1 340.6 L134.28 341.82 L135.38 341.03 L135.6 344.52 L136.43 344.6 L136.56 345.43 L138.17 346.51 L138.2 348.03 L139.53 347.49 L140.34 348.86 L141.13 350.16 L142.13 350.86 L143.16 350.59 L143.95 350.9 L145.2 351.23 L145.94 352.24 L147.1 352.04 L148.32 352.1 L148.84 353.03 L150.25 353.09 L150.98 354.13 L151.82 354.13 L152.63 353.59 L153.92 353.6 L154.7 354.4 L156.18 354.28 L156.74 354.21 L158 354.4" fill="none" stroke="#7d7d7d" stroke-width="1.5" stroke-linejoin="round"/>
<path d="M38.5 354.3 L39.37 354.02 L40.7 353.9 L41.61 354.17 L42.5 354.25 L43.56 354.4 L44.64 354.4 L45.51 354.4 L46.44 354.11 L47.23 354.4 L48.82 354.4 L50.08 354.27 L50.75 354.4 L52.15 354.4 L52.61 354.4 L53.89 354.36 L54.46 354.4 L55.28 354.29 L57.11 354.27 L57.88 354.4 L58.76 354.24 L59.73 353.93 L61.03 354.31 L61.27 354.24 L62.86 354.32 L63.59 354.18 L65.2 354.4 L66.22 354.36 L67.48 354.4 L67.94 354.11 L68.72 354.39 L70.12 354.4 L70.89 354.4 L71.69 354.4 L72.87 354.4 L74.31 354.03 L74.97 354.21 L75.57 354.33 L76.64 354.4 L78.05 353.76 L78.73 354.01 L80.18 354.03 L81.15 354 L82.42 353.69 L83.03 353.26 L84.32 352.64 L85.66 352.99 L86.56 353.11 L86.9 352.7 L87.92 353.44 L88.97 351.73 L89.99 351.75 L91.11 353.09 L92.38 351.96 L93.19 352.12 L93.92 351.38 L95.53 350.21 L96.34 350.74 L97.15 349.68 L97.85 349.35 L99.24 348.54 L100.54 347.89 L100.96 346.85 L101.64 346.57 L102.97 345.65 L104.07 346.14 L104.72 344.76 L104.93 344.22 L106 341.32 L106.43 342.56 L106.99 339.09 L107.56 341.53 L108.62 339.06 L108.68 338.19 L108.95 338.75 L109.05 336.59 L109.43 335.74 L109.94 330.94 L110.09 332.54 L110.02 333.35 L110.22 332.16 L110.76 330.14 L111.26 328.77 L111.06 326.45 L111.62 326.39 L111.47 325.52 L111.33 323.57 L112.09 321.42 L112.21 322.49 L112.02 323.38 L112.26 319.73 L112.61 314.77 L113.13 318.44 L113.16 316.36 L113.44 317.11 L113.52 313.86 L113.91 314.06 L113.43 311.88 L113.93 313.42 L113.91 311.24 L114.34 310.59 L114.7 307 L114.42 306.95 L115.04 305.5 L115.11 306.09 L115.15 305.11 L115.6 304.49 L115.71 302.25 L115.72 302.79 L115.76 302.27 L116.01 301.11 L116.28 297.49 L116.34 296.04 L116.56 300.13 L116.71 296.53 L117.08 295.37 L117.49 296.16 L117.5 293.5 L117.65 291.09 L118.04 286.38 L118.19 286.64 L118.55 287.33 L118.68 285.64 L118.8 286.2 L118.47 282.01 L118.88 284.27 L119.39 282.78 L119.06 283.17 L119.74 279.73 L119.03 280.85 L119.63 282.38 L120.03 278.16 L119.6 275.91 L119.72 273.72 L120.19 274.96 L120.04 276.02 L120.25 272.67 L120.77 272.94 L120.53 269.3 L121.34 269.86 L120.88 267.88 L120.8 269.99 L121.76 265.3 L122.69 262.58 L123.27 265.58 L123.09 261.8 L124.7 262.74 L125.11 265.52 L126.01 264.67 L126.11 264.1 L126.46 265.21 L126.41 267.17 L127.08 266.64 L127.49 269.85 L127.18 269 L127.44 271.67 L127.83 275.91 L127.37 269.4 L127.76 272.8 L127.87 272.74 L128.29 279.43 L128.87 278.59 L128.1 278.07 L128.63 280.71 L128.92 285.24 L129.36 281.66 L129.11 278.74 L129.34 282.79 L129.17 283.02 L129.9 285.95 L129.66 288.36 L129.69 286.56 L129.8 290.29 L130.12 291.52 L130.72 288.23 L130.44 290.4 L131.14 293.7 L130.75 294.7 L131.08 295.67 L131.35 296.47 L131.08 300.1 L131.78 300.01 L131.79 298.79 L131.37 298.81 L132.33 298.72 L132.04 304.78 L132.06 301.77 L132.68 303.88 L132.47 307.37 L132.6 304.01 L133.22 308.76 L133.26 310.62 L133.54 313.43 L133.54 309.74 L133.3 311.57 L133.63 316.11 L134.03 313.54 L134.15 316.92 L134.22 316.55 L135.19 317.97 L134.76 317.66 L135.11 320.54 L135.23 318.86 L135.07 322.11 L135.38 319.74 L135.59 321.33 L136.24 325.76 L136.41 326.11 L136.84 325.87 L136.8 327.08 L136.91 329.57 L137.39 328.89 L137.54 330.34 L137.86 330.07 L138.58 330.76 L138.44 333.41 L138.42 335.1 L138.55 334.89 L139.42 334.98 L140.14 336.26 L140.01 337.25 L140.65 337.82 L140.41 337.05 L141.14 340.07 L141.75 341.89 L142.92 340.48 L143.29 344.16 L143.89 343.16 L144.79 345.08 L144.84 345.15 L146.24 346.29 L147.2 346.74 L147.34 346.77 L148.38 348.81 L149.19 347.68 L150.47 348.99 L151.07 349.1 L152.43 349.61 L152.83 351.24 L153.73 351.41 L154.57 351.45 L155.29 352.02 L156.57 352.63 L157.88 352.58 L158.87 352.97 L159.86 353.4 L160.84 353.7 L162 354.3" fill="none" stroke="#000" stroke-width="1.8" stroke-linejoin="round"/>
<path d="M261.4 353.5 L261.5 353 L262.26 352.79 L263.48 352.67 L264.58 352.97 L266.09 352.81 L267.11 353.09 L268.25 352.48 L269.42 352.73 L269.93 352.99 L271.14 352.74 L272.33 352.67 L273.11 351.87 L274.65 352.52 L275.52 352.46 L276.88 352.67 L277.39 352.63 L278.06 352.11 L279.24 351.9 L280.77 352.25 L281.57 351.25 L282.41 351.5 L283.79 351.27 L284.58 351.52 L285.55 350.12 L286.74 350.58 L287.77 350.43 L288.24 350.2 L289.76 349.98 L290.82 350.1 L292.05 349.93 L292.82 350.03 L293.88 348.97 L295.12 349 L295.58 348.38 L296.74 347.06 L297.61 346.85 L298.56 348.11 L299.7 347.26 L300.24 345.67 L301.47 346.1 L302.83 347.11 L303.7 346.44 L304.09 345.11 L305.24 344.72 L306.68 345.52 L307.14 342.89 L307.57 342.96 L309.12 342.12 L310.24 342.08 L310.68 341.77 L311.38 340.03 L312.29 339.59 L312.64 338.51 L312.89 339.35 L313.17 337.27 L314.4 335.66 L315.37 335.75 L315.99 334.16 L316.28 332.83 L316.85 332.35 L317.14 330.6 L317.69 329.68 L318.29 331.21 L318.53 327.82 L318.51 328.27 L319.19 327.83 L319.23 325.83 L319.61 325.46 L320.18 322.4 L320.5 323.43 L320.78 322.15 L320.92 318.92 L320.94 320.03 L321.74 319.24 L322.02 317.84 L321.97 315.54 L321.99 316.47 L322.6 314.66 L322.92 316.53 L323.1 312.29 L323.45 309.92 L323.3 309.85 L323.35 311.78 L324.15 306.6 L324.13 307.76 L324.67 305.14 L324.68 304.87 L324.51 306.58 L324.39 302.01 L324.85 300.58 L325.12 297.36 L325.19 299.63 L325.02 296.62 L325.49 298.96 L325.12 300.06 L325.44 294.45 L325.41 294.51 L325.56 295.02 L325.32 291.45 L326.03 292.46 L325.56 291.78 L326.22 288.62 L325.71 290.9 L325.88 287.26 L326.14 287.43 L326.13 284.79 L326.37 287.19 L326.58 281.74 L326.81 282.73 L326.23 282.29 L326.92 280.64 L326.65 281.28 L326.73 277.66 L326.81 278.96 L326.62 274.62 L327.28 274.15 L327.26 276.63 L327.14 272.27 L327.11 272.84 L327.55 272.35 L327.52 269.6 L327.33 268.68 L327.84 273.58 L327.92 266 L327.75 265.46 L328.16 266.23 L328.28 265.3 L328.45 265.37 L328.97 264.09 L329.55 265.12 L330.45 261.1 L331.74 261.1 L332.41 263.59 L332.81 264.95 L333.58 264.37 L334.32 266.77 L334.44 267.85 L334.64 265.43 L334.67 268.3 L334.78 270.94 L335.59 272.37 L335.76 274.38 L335.25 275.86 L335.62 272.3 L335.35 280.17 L335.31 277.01 L335.69 276.95 L336.2 279.14 L335.76 278.6 L335.99 284.64 L336.34 278.51 L336.28 280.92 L336.53 284.61 L336.84 284.87 L336.85 287.22 L336.62 287.68 L336.97 290.68 L336.97 286.57 L337.59 289.89 L336.68 290.94 L336.9 292.69 L337.31 292.72 L337.81 294.21 L337.62 296.5 L337.79 294.64 L337.51 295.66 L337.86 295.26 L338.46 299.03 L338.04 296.23 L338.14 301.16 L338.41 300.39 L338.1 302.61 L338.12 305.22 L338.16 304.09 L338.21 308.97 L338.61 307.28 L338.04 308.1 L339.03 309.05 L338.67 312.25 L338.87 311.14 L338.89 312.88 L339.82 315.4 L339.46 314.62 L339.43 315.25 L339.7 314.98 L340.37 316.06 L340.43 316.73 L340.13 317.05 L340.35 320.34 L340.49 320.45 L340.8 322.34 L341.37 322.46 L341.32 324.48 L341.23 324.59 L341.88 325.12 L341.9 326.63 L341.96 328.59 L342.06 328.88 L342.14 331.46 L343.06 330.84 L343.19 334.02 L343.32 334.2 L343.78 333.38 L343.96 335.28 L344.43 336.59 L344.03 335.77 L344.77 337.83 L345.12 338.63 L345.01 339.93 L345.67 342.17 L345.74 341.73 L346.04 342.38 L346.41 344.09 L346.77 344.14 L347.33 345.59 L347.57 346.69 L348.74 346.33 L349.03 349.06 L349.53 349.5 L349.61 350.36 L351.17 351.36 L351.15 352.56 L352.4 353 L352.4 353.5Z" fill="#ededed" stroke="none"/>
<path d="M261.5 353 L262.26 352.79 L263.48 352.67 L264.58 352.97 L266.09 352.81 L267.11 353.09 L268.25 352.48 L269.42 352.73 L269.93 352.99 L271.14 352.74 L272.33 352.67 L273.11 351.87 L274.65 352.52 L275.52 352.46 L276.88 352.67 L277.39 352.63 L278.06 352.11 L279.24 351.9 L280.77 352.25 L281.57 351.25 L282.41 351.5 L283.79 351.27 L284.58 351.52 L285.55 350.12 L286.74 350.58 L287.77 350.43 L288.24 350.2 L289.76 349.98 L290.82 350.1 L292.05 349.93 L292.82 350.03 L293.88 348.97 L295.12 349 L295.58 348.38 L296.74 347.06 L297.61 346.85 L298.56 348.11 L299.7 347.26 L300.24 345.67 L301.47 346.1 L302.83 347.11 L303.7 346.44 L304.09 345.11 L305.24 344.72 L306.68 345.52 L307.14 342.89 L307.57 342.96 L309.12 342.12 L310.24 342.08 L310.68 341.77 L311.38 340.03 L312.29 339.59 L312.64 338.51 L312.89 339.35 L313.17 337.27 L314.4 335.66 L315.37 335.75 L315.99 334.16 L316.28 332.83 L316.85 332.35 L317.14 330.6 L317.69 329.68 L318.29 331.21 L318.53 327.82 L318.51 328.27 L319.19 327.83 L319.23 325.83 L319.61 325.46 L320.18 322.4 L320.5 323.43 L320.78 322.15 L320.92 318.92 L320.94 320.03 L321.74 319.24 L322.02 317.84 L321.97 315.54 L321.99 316.47 L322.6 314.66 L322.92 316.53 L323.1 312.29 L323.45 309.92 L323.3 309.85 L323.35 311.78 L324.15 306.6 L324.13 307.76 L324.67 305.14 L324.68 304.87 L324.51 306.58 L324.39 302.01 L324.85 300.58 L325.12 297.36 L325.19 299.63 L325.02 296.62 L325.49 298.96 L325.12 300.06 L325.44 294.45 L325.41 294.51 L325.56 295.02 L325.32 291.45 L326.03 292.46 L325.56 291.78 L326.22 288.62 L325.71 290.9 L325.88 287.26 L326.14 287.43 L326.13 284.79 L326.37 287.19 L326.58 281.74 L326.81 282.73 L326.23 282.29 L326.92 280.64 L326.65 281.28 L326.73 277.66 L326.81 278.96 L326.62 274.62 L327.28 274.15 L327.26 276.63 L327.14 272.27 L327.11 272.84 L327.55 272.35 L327.52 269.6 L327.33 268.68 L327.84 273.58 L327.92 266 L327.75 265.46 L328.16 266.23 L328.28 265.3 L328.45 265.37 L328.97 264.09 L329.55 265.12 L330.45 261.1 L331.74 261.1 L332.41 263.59 L332.81 264.95 L333.58 264.37 L334.32 266.77 L334.44 267.85 L334.64 265.43 L334.67 268.3 L334.78 270.94 L335.59 272.37 L335.76 274.38 L335.25 275.86 L335.62 272.3 L335.35 280.17 L335.31 277.01 L335.69 276.95 L336.2 279.14 L335.76 278.6 L335.99 284.64 L336.34 278.51 L336.28 280.92 L336.53 284.61 L336.84 284.87 L336.85 287.22 L336.62 287.68 L336.97 290.68 L336.97 286.57 L337.59 289.89 L336.68 290.94 L336.9 292.69 L337.31 292.72 L337.81 294.21 L337.62 296.5 L337.79 294.64 L337.51 295.66 L337.86 295.26 L338.46 299.03 L338.04 296.23 L338.14 301.16 L338.41 300.39 L338.1 302.61 L338.12 305.22 L338.16 304.09 L338.21 308.97 L338.61 307.28 L338.04 308.1 L339.03 309.05 L338.67 312.25 L338.87 311.14 L338.89 312.88 L339.82 315.4 L339.46 314.62 L339.43 315.25 L339.7 314.98 L340.37 316.06 L340.43 316.73 L340.13 317.05 L340.35 320.34 L340.49 320.45 L340.8 322.34 L341.37 322.46 L341.32 324.48 L341.23 324.59 L341.88 325.12 L341.9 326.63 L341.96 328.59 L342.06 328.88 L342.14 331.46 L343.06 330.84 L343.19 334.02 L343.32 334.2 L343.78 333.38 L343.96 335.28 L344.43 336.59 L344.03 335.77 L344.77 337.83 L345.12 338.63 L345.01 339.93 L345.67 342.17 L345.74 341.73 L346.04 342.38 L346.41 344.09 L346.77 344.14 L347.33 345.59 L347.57 346.69 L348.74 346.33 L349.03 349.06 L349.53 349.5 L349.61 350.36 L351.17 351.36 L351.15 352.56 L352.4 353" fill="none" stroke="#ababab" stroke-width="1.5" stroke-linejoin="round"/>
<path d="M261.5 352.5 L262.49 351.66 L263.94 350.98 L264.96 350.9 L265.89 350.83 L266.98 351.4 L268.09 350.83 L268.99 351.14 L269.95 349.85 L270.78 350.34 L272.4 350.55 L273.69 349.6 L274.39 350.32 L275.82 349.74 L276.32 349.69 L277.63 348.91 L278.23 349.07 L279.08 348.18 L280.94 347.84 L281.75 348.26 L282.66 347.17 L283.66 346.14 L284.99 346.72 L285.26 346.25 L286.88 346.15 L287.65 345.49 L289.22 346.78 L290.21 344.98 L291.43 344.92 L291.86 343.32 L292.61 343.6 L293.97 343.37 L294.71 342.77 L295.47 342.17 L296.62 342.26 L298.02 340.06 L298.54 340 L298.99 340.16 L299.91 340.5 L301.18 337.92 L301.72 338.41 L303.02 338.24 L303.85 337.87 L304.97 336.71 L305.44 335.21 L306.58 333.18 L307.77 333.89 L308.17 333.66 L308.02 331.97 L308.57 333.74 L309.14 328.84 L309.68 328.66 L310.33 331.9 L311.13 328.64 L311.47 328.75 L311.56 327.11 L312.53 324.45 L312.69 325.87 L312.66 323.48 L312.79 323.08 L313.62 321.6 L314.35 320.49 L314.21 318.59 L314.32 318.24 L315.16 317.01 L315.78 318.46 L315.94 316.32 L315.66 315.77 L316.49 311.32 L316.67 314.19 L316.99 308.89 L317.3 313.61 L318.12 310.1 L317.98 309.4 L318.06 310.93 L317.96 308.18 L318.14 307.47 L318.45 300.85 L318.59 303.77 L318.52 305.44 L318.72 304.17 L319.25 301.7 L319.74 300.18 L319.53 297.36 L320.1 297.72 L319.95 296.95 L319.76 294.62 L320.46 292.03 L320.53 293.81 L320.27 295.3 L320.45 290.73 L320.75 284.45 L321.31 289.61 L321.4 287.16 L321.72 288.41 L321.84 284.45 L322.28 284.97 L321.84 282.38 L322.37 284.56 L322.38 281.97 L322.86 281.33 L323.25 276.96 L323 277.1 L323.56 275.45 L323.57 276.37 L323.55 275.32 L323.94 274.71 L324.46 271.81 L324.96 272.43 L325.13 272.02 L325.52 270.82 L325.93 266.59 L326.12 265.04 L326.48 270.28 L326.77 266.09 L327.27 264.9 L327.82 266.06 L327.96 263.05 L329.01 261.39 L330.12 261.1 L331 261.1 L332.09 261.22 L333.16 261.1 L333.63 263.21 L333.65 261.1 L334.42 265.27 L335.29 265.71 L335.28 268.31 L336.27 266.74 L335.88 270.08 L336.8 273.79 L337.52 271.5 L337.18 271.24 L337.37 271.09 L337.93 274.39 L337.88 277.44 L338.13 276.29 L338.7 278.66 L338.51 277.31 L339.36 279.93 L338.95 280.18 L338.58 284.27 L339.24 282.2 L339.92 281.72 L340.23 286.28 L339.85 283.2 L340.71 286.74 L340.37 290.13 L341.24 289.58 L341.3 289.27 L341.63 290.39 L341.54 292.21 L342.18 291.95 L342.56 294.81 L342.22 294.29 L342.58 296.7 L343.08 300.4 L342.72 295.22 L343.18 298.27 L343.36 298.47 L343.86 304.19 L344.51 303.75 L343.81 303.59 L344.43 305.91 L344.81 309.75 L345.34 307.07 L345.18 304.96 L345.54 308.33 L345.51 308.67 L346.38 311.14 L346.28 313.19 L346.44 311.94 L346.65 315.06 L347.06 316.21 L347.84 313.87 L347.73 315.75 L348.6 318.48 L348.38 319.45 L348.88 320.4 L349.33 321.21 L349.24 324.14 L350.11 324.3 L350.32 323.6 L350.09 323.84 L351.25 324.02 L351.16 328.62 L351.38 326.7 L352.19 328.45 L352.18 331.15 L352.62 329 L353.54 332.48 L353.88 333.99 L354.46 336.13 L354.76 333.91 L354.82 335.4 L355.45 338.63 L356.14 337.25 L356.56 339.68 L356.93 339.75 L358.19 340.93 L358.07 341.07 L358.71 343.09 L359.26 342.3 L359.53 344.32 L360.27 343.21 L360.91 344.31 L361.99 346.86 L362.59 347.26 L363.45 347.39 L363.84 348.24 L364.38 349.65 L365.29 349.65 L366.13 350.25 L367.14 350.15 L368.54 350.46 L369.09 351.5 L369.62 352.18 L370.3 352.19 L371.72 352.35 L372.7 353" fill="none" stroke="#7d7d7d" stroke-width="1.5" stroke-linejoin="round"/>
<path d="M261.5 353 L262.68 353.2 L263.62 353.11 L265.07 352.57 L265.58 353.11 L266.71 353.2 L267.86 352.59 L269.08 352.38 L270.02 352.72 L271.06 352.78 L272.05 352.72 L272.73 352.69 L274.16 353.03 L275.37 352.42 L276.45 352.3 L277.66 351.94 L278.77 352.14 L279.37 352.21 L280.38 351.02 L281.63 352.03 L282.73 351.56 L283.56 350.97 L284.12 350.59 L286.17 350.56 L286.6 350.56 L287.2 350.1 L289.13 350.02 L290.09 349.61 L290.78 349.24 L291.41 349.63 L292.29 348.88 L294.12 347.9 L294.7 347.18 L295.83 348.26 L296.61 347.62 L297.34 347.56 L298.41 346.12 L300.13 346.42 L300.62 346.88 L301.47 345.98 L302.43 344.73 L303.78 344.34 L304.56 344.3 L305.31 344.86 L305.87 343.24 L307.27 344.33 L307.53 342.85 L309.1 342.54 L309.76 342.73 L310.83 342.19 L311.45 340.02 L312.09 339.77 L312.42 339.22 L313.32 336.35 L313.77 336.41 L314.47 336.18 L315.54 335.73 L315.83 335.34 L315.97 333.38 L316.26 332.54 L317.15 330.45 L317.55 330.5 L317.62 331.3 L318.57 327.71 L318.54 325.53 L319.22 326.19 L319.56 324.65 L319.77 326.23 L320.23 322.79 L320.56 321.72 L320.6 322.64 L320.75 318.65 L320.73 317.25 L321.58 319.23 L321.83 317.8 L321.62 317.39 L322.34 313.23 L322.55 310.09 L323.21 314.12 L323.52 312.76 L324.07 311.38 L323.89 309.4 L324.41 309.36 L323.96 306.25 L324.11 306.52 L324.15 306.38 L324.43 304.48 L325.46 304.38 L325.21 304.47 L325.51 302.67 L325.67 300.66 L325.89 299.3 L326.12 298.42 L326.78 295.66 L326.75 295.55 L326.96 299.15 L326.96 295.6 L327.25 294.32 L327.9 293.72 L328.37 287.66 L328.39 289.86 L329.03 287.44 L328.37 287.3 L328.77 285.36 L329.35 285.33 L329.58 287.68 L329.38 284.95 L329.71 277.85 L330.15 283.83 L330.22 282.51 L329.89 279.23 L330.65 281.49 L330.81 279.68 L330.86 278.62 L331.16 276.88 L331.06 274.55 L331.19 275.5 L331.08 271.74 L332.17 269.95 L331.48 274.48 L332.06 272.7 L332.31 269.97 L332.95 269.31 L333.3 265.15 L333.41 261.1 L334.47 265.28 L335.33 264.92 L336.91 262.34 L336.97 261.1 L338.57 261.23 L338.4 261.85 L339.14 261.38 L340.24 261.84 L340.75 265.99 L340.49 263.73 L340.97 267.29 L341.19 267.31 L340.88 268.73 L342 268.94 L342.14 272.39 L342.01 270.41 L342.73 276.7 L343.23 273.94 L343.21 271.96 L343.91 278.96 L344.73 276.09 L345.26 276.54 L344.88 278.19 L346.07 276.93 L346.31 281.6 L346.44 283.52 L347.14 283.29 L348.47 282.97 L348.16 284.55 L348.55 291.8 L349.44 284.54 L349.61 288.25 L350.23 287.95 L350.78 288.36 L351.34 292.22 L351.58 291.4 L352.1 293.83 L353.06 292.15 L352.58 295.06 L353.1 294.9 L353.58 298.24 L353.91 296.56 L355.04 296.25 L354.92 296.48 L355.15 300.79 L355.92 301.13 L355.72 299.4 L356.62 303.58 L356.25 305.55 L356.65 303.7 L357.33 305.61 L357.46 307.12 L357.63 309.87 L358.16 309.57 L358.48 308.29 L358.58 310.63 L358.69 312.68 L358.94 315.19 L358.72 313.56 L359.61 313.7 L359.85 316.38 L359.85 316.11 L360.24 317.95 L360.8 318.69 L361.1 319.27 L361.58 321.22 L361.54 320.7 L361.99 322.93 L362.09 324.86 L363.06 326.9 L362.78 325.68 L363.1 327.98 L363.71 326.39 L364.21 329.45 L364.36 331.06 L364.65 331.79 L365.46 333.17 L365.68 334.28 L366.69 333.16 L366.36 332.92 L366.85 336.21 L367.54 337.24 L367.3 337.18 L367.59 339.72 L368.52 338.21 L368.48 340.58 L369.75 340.72 L369.58 342.46 L370.4 342.93 L371.1 344.44 L372.13 345.25 L372.46 346.3 L373.52 346.86 L374.52 346.72 L375.5 349.06 L376.47 348.79 L377.18 349.62 L378.45 350.49 L378.96 350.86 L380.16 351.03 L381.16 351.84 L382.35 352.43 L383.56 352.46 L384 353" fill="none" stroke="#000" stroke-width="1.8" stroke-linejoin="round"/>
<path d="M40 12H231.5V110.4" fill="none" stroke="#333" stroke-width="1.25"/>
<path d="M35.4 110.4H40M37.9 105.69H40M37.9 100.97H40M37.9 96.26H40M35.4 91.54H40M37.9 86.83H40M37.9 82.11H40M37.9 77.4H40M35.4 72.68H40M37.9 67.97H40M37.9 63.25H40M37.9 58.54H40M35.4 53.82H40M37.9 49.11H40M37.9 44.39H40M37.9 39.67H40M35.4 34.96H40M37.9 30.25H40M37.9 25.53H40M37.9 20.81H40M35.4 16.1H40" stroke="#000" stroke-width="1.3"/>
<text x="32.8" y="118.8" text-anchor="end" font-size="10.4">0</text>
<text x="32.8" y="99.94" text-anchor="end" font-size="10.4">20</text>
<text x="32.8" y="81.08" text-anchor="end" font-size="10.4">40</text>
<text x="32.8" y="62.22" text-anchor="end" font-size="10.4">60</text>
<text x="32.8" y="43.36" text-anchor="end" font-size="10.4">80</text>
<text x="32.8" y="24.5" text-anchor="end" font-size="10.4">100</text>
<path d="M60.61 110.4v3.2M81.31 110.4v3.2M127.19 110.4v3.2M170.99 110.4v3.2M213.31 110.4v3.2M40.6 110.4v3.2M95.12 110.4v1.8M103.2 110.4v1.8M108.93 110.4v1.8M113.38 110.4v1.8M117.01 110.4v1.8M120.08 110.4v1.8M122.74 110.4v1.8M125.09 110.4v1.8M140.37 110.4v1.8M148.09 110.4v1.8M153.56 110.4v1.8M157.8 110.4v1.8M161.27 110.4v1.8M164.2 110.4v1.8M166.74 110.4v1.8M168.98 110.4v1.8M183.73 110.4v1.8M191.18 110.4v1.8M196.47 110.4v1.8M200.57 110.4v1.8M203.92 110.4v1.8M206.75 110.4v1.8M209.21 110.4v1.8M211.37 110.4v1.8M226.05 110.4v1.8M65.78 110.4v1.8M70.96 110.4v1.8M76.13 110.4v1.8M46.8 110.4v1.8M53.6 110.4v1.8" stroke="#000" stroke-width="1.2"/>
<path d="M40 11.5V110.4H231.5" fill="none" stroke="#000" stroke-width="1.5"/>
<text x="60.61" y="126.5" text-anchor="middle" font-size="10.2">0</text>
<text x="81.31" y="126.5" text-anchor="middle" font-size="10.2">10<tspan font-size="8.2" dy="-3.6">2</tspan></text>
<text x="127.19" y="126.5" text-anchor="middle" font-size="10.2">10<tspan font-size="8.2" dy="-3.6">3</tspan></text>
<text x="170.99" y="126.5" text-anchor="middle" font-size="10.2">10<tspan font-size="8.2" dy="-3.6">4</tspan></text>
<text x="213.31" y="126.5" text-anchor="middle" font-size="10.2">10<tspan font-size="8.2" dy="-3.6">5</tspan></text>
<path d="M176.6 25.3H188.8" stroke="#000" stroke-width="2"/>
<path d="M176.6 38.4H188.8" stroke="#767676" stroke-width="2"/>
<text x="192.6" y="28.2" font-size="9.8" fill="#111">NIK<tspan font-size="6.3" dy="-2.4" style="stroke-width:0.1px">+/+</tspan></text>
<text x="192.6" y="41.3" font-size="9.8" fill="#111">NIK<tspan font-size="6.3" dy="-2.4" style="stroke-width:0.1px">–/–</tspan></text>
<path d="M260.8 12.2H453.3V109.8" fill="none" stroke="#333" stroke-width="1.25"/>
<path d="M256.2 109.8H260.8M258.7 105.12H260.8M258.7 100.45H260.8M258.7 95.77H260.8M256.2 91.1H260.8M258.7 86.42H260.8M258.7 81.75H260.8M258.7 77.07H260.8M256.2 72.4H260.8M258.7 67.72H260.8M258.7 63.05H260.8M258.7 58.37H260.8M256.2 53.7H260.8M258.7 49.02H260.8M258.7 44.35H260.8M258.7 39.67H260.8M256.2 35H260.8M258.7 30.32H260.8M258.7 25.65H260.8M258.7 20.97H260.8M256.2 16.3H260.8" stroke="#000" stroke-width="1.3"/>
<text x="253.6" y="118.2" text-anchor="end" font-size="10.4">0</text>
<text x="253.6" y="99.5" text-anchor="end" font-size="10.4">20</text>
<text x="253.6" y="80.8" text-anchor="end" font-size="10.4">40</text>
<text x="253.6" y="62.1" text-anchor="end" font-size="10.4">60</text>
<text x="253.6" y="43.4" text-anchor="end" font-size="10.4">80</text>
<text x="253.6" y="24.7" text-anchor="end" font-size="10.4">100</text>
<path d="M281.51 109.8v3.2M302.32 109.8v3.2M348.45 109.8v3.2M392.47 109.8v3.2M435.01 109.8v3.2M261.4 109.8v3.2M316.21 109.8v1.8M324.33 109.8v1.8M330.09 109.8v1.8M334.56 109.8v1.8M338.21 109.8v1.8M341.3 109.8v1.8M343.98 109.8v1.8M346.33 109.8v1.8M361.7 109.8v1.8M369.45 109.8v1.8M374.95 109.8v1.8M379.22 109.8v1.8M382.7 109.8v1.8M385.65 109.8v1.8M388.2 109.8v1.8M390.46 109.8v1.8M405.28 109.8v1.8M412.77 109.8v1.8M418.08 109.8v1.8M422.21 109.8v1.8M425.57 109.8v1.8M428.42 109.8v1.8M430.89 109.8v1.8M433.07 109.8v1.8M447.82 109.8v1.8M286.72 109.8v1.8M291.92 109.8v1.8M297.12 109.8v1.8M267.64 109.8v1.8M274.47 109.8v1.8" stroke="#000" stroke-width="1.2"/>
<path d="M260.8 11.7V109.8H453.3" fill="none" stroke="#000" stroke-width="1.5"/>
<text x="281.51" y="125.9" text-anchor="middle" font-size="10.2">0</text>
<text x="302.32" y="125.9" text-anchor="middle" font-size="10.2">10<tspan font-size="8.2" dy="-3.6">2</tspan></text>
<text x="348.45" y="125.9" text-anchor="middle" font-size="10.2">10<tspan font-size="8.2" dy="-3.6">3</tspan></text>
<text x="392.47" y="125.9" text-anchor="middle" font-size="10.2">10<tspan font-size="8.2" dy="-3.6">4</tspan></text>
<text x="435.01" y="125.9" text-anchor="middle" font-size="10.2">10<tspan font-size="8.2" dy="-3.6">5</tspan></text>
<path d="M403.3 22.3H415.5" stroke="#000" stroke-width="2"/>
<path d="M403.3 35.4H415.5" stroke="#767676" stroke-width="2"/>
<text x="419.5" y="25.2" font-size="9.8" fill="#111">NIK<tspan font-size="6.3" dy="-2.4" style="stroke-width:0.1px">+/+</tspan></text>
<text x="419.5" y="38.3" font-size="9.8" fill="#111">NIK<tspan font-size="6.3" dy="-2.4" style="stroke-width:0.1px">–/–</tspan></text>
<path d="M39.2 132H231.4V231.8" fill="none" stroke="#333" stroke-width="1.25"/>
<path d="M34.6 231.8H39.2M37.1 227.06H39.2M37.1 222.32H39.2M37.1 217.58H39.2M34.6 212.84H39.2M37.1 208.1H39.2M37.1 203.36H39.2M37.1 198.62H39.2M34.6 193.88H39.2M37.1 189.14H39.2M37.1 184.4H39.2M37.1 179.66H39.2M34.6 174.92H39.2M37.1 170.18H39.2M37.1 165.44H39.2M37.1 160.7H39.2M34.6 155.96H39.2M37.1 151.22H39.2M37.1 146.48H39.2M37.1 141.74H39.2M34.6 137H39.2" stroke="#000" stroke-width="1.3"/>
<text x="32" y="240.2" text-anchor="end" font-size="10.4">0</text>
<text x="32" y="221.24" text-anchor="end" font-size="10.4">20</text>
<text x="32" y="202.28" text-anchor="end" font-size="10.4">40</text>
<text x="32" y="183.32" text-anchor="end" font-size="10.4">60</text>
<text x="32" y="164.36" text-anchor="end" font-size="10.4">80</text>
<text x="32" y="145.4" text-anchor="end" font-size="10.4">100</text>
<path d="M59.88 231.8v3.2M80.66 231.8v3.2M126.71 231.8v3.2M170.66 231.8v3.2M213.14 231.8v3.2M39.8 231.8v3.2M94.52 231.8v1.8M102.63 231.8v1.8M108.38 231.8v1.8M112.85 231.8v1.8M116.49 231.8v1.8M119.58 231.8v1.8M122.25 231.8v1.8M124.6 231.8v1.8M139.94 231.8v1.8M147.68 231.8v1.8M153.17 231.8v1.8M157.43 231.8v1.8M160.91 231.8v1.8M163.86 231.8v1.8M166.41 231.8v1.8M168.65 231.8v1.8M183.45 231.8v1.8M190.93 231.8v1.8M196.24 231.8v1.8M200.35 231.8v1.8M203.72 231.8v1.8M206.56 231.8v1.8M209.02 231.8v1.8M211.2 231.8v1.8M225.93 231.8v1.8M65.07 231.8v1.8M70.27 231.8v1.8M75.46 231.8v1.8M46.02 231.8v1.8M52.85 231.8v1.8" stroke="#000" stroke-width="1.2"/>
<path d="M39.2 131.5V231.8H231.4" fill="none" stroke="#000" stroke-width="1.5"/>
<text x="59.88" y="247.9" text-anchor="middle" font-size="10.2">0</text>
<text x="80.66" y="247.9" text-anchor="middle" font-size="10.2">10<tspan font-size="8.2" dy="-3.6">2</tspan></text>
<text x="126.71" y="247.9" text-anchor="middle" font-size="10.2">10<tspan font-size="8.2" dy="-3.6">3</tspan></text>
<text x="170.66" y="247.9" text-anchor="middle" font-size="10.2">10<tspan font-size="8.2" dy="-3.6">4</tspan></text>
<text x="213.14" y="247.9" text-anchor="middle" font-size="10.2">10<tspan font-size="8.2" dy="-3.6">5</tspan></text>
<path d="M183.1 141.9H195.3" stroke="#000" stroke-width="2"/>
<path d="M183.1 155H195.3" stroke="#767676" stroke-width="2"/>
<text x="199.3" y="144.8" font-size="9.8" fill="#111">NIK<tspan font-size="6.3" dy="-2.4" style="stroke-width:0.1px">+/+</tspan></text>
<text x="199.3" y="157.9" font-size="9.8" fill="#111">NIK<tspan font-size="6.3" dy="-2.4" style="stroke-width:0.1px">–/–</tspan></text>
<path d="M261 129.8H454V228.9" fill="none" stroke="#333" stroke-width="1.25"/>
<path d="M256.4 228.9H261M258.9 224.19H261M258.9 219.48H261M258.9 214.77H261M256.4 210.06H261M258.9 205.35H261M258.9 200.64H261M258.9 195.93H261M256.4 191.22H261M258.9 186.51H261M258.9 181.8H261M258.9 177.09H261M256.4 172.38H261M258.9 167.67H261M258.9 162.96H261M258.9 158.25H261M256.4 153.54H261M258.9 148.83H261M258.9 144.12H261M258.9 139.41H261M256.4 134.7H261" stroke="#000" stroke-width="1.3"/>
<text x="253.8" y="237.3" text-anchor="end" font-size="10.4">0</text>
<text x="253.8" y="218.46" text-anchor="end" font-size="10.4">20</text>
<text x="253.8" y="199.62" text-anchor="end" font-size="10.4">40</text>
<text x="253.8" y="180.78" text-anchor="end" font-size="10.4">60</text>
<text x="253.8" y="161.94" text-anchor="end" font-size="10.4">80</text>
<text x="253.8" y="143.1" text-anchor="end" font-size="10.4">100</text>
<path d="M281.77 228.9v3.2M302.63 228.9v3.2M348.87 228.9v3.2M393.01 228.9v3.2M435.66 228.9v3.2M261.6 228.9v3.2M316.55 228.9v1.8M324.69 228.9v1.8M330.47 228.9v1.8M334.95 228.9v1.8M338.61 228.9v1.8M341.71 228.9v1.8M344.39 228.9v1.8M346.76 228.9v1.8M362.16 228.9v1.8M369.93 228.9v1.8M375.45 228.9v1.8M379.72 228.9v1.8M383.22 228.9v1.8M386.17 228.9v1.8M388.73 228.9v1.8M390.99 228.9v1.8M405.85 228.9v1.8M413.36 228.9v1.8M418.69 228.9v1.8M422.83 228.9v1.8M426.2 228.9v1.8M429.06 228.9v1.8M431.53 228.9v1.8M433.71 228.9v1.8M448.5 228.9v1.8M286.98 228.9v1.8M292.2 228.9v1.8M297.41 228.9v1.8M267.85 228.9v1.8M274.71 228.9v1.8" stroke="#000" stroke-width="1.2"/>
<path d="M261 129.3V228.9H454" fill="none" stroke="#000" stroke-width="1.5"/>
<text x="281.77" y="245" text-anchor="middle" font-size="10.2">0</text>
<text x="302.63" y="245" text-anchor="middle" font-size="10.2">10<tspan font-size="8.2" dy="-3.6">2</tspan></text>
<text x="348.87" y="245" text-anchor="middle" font-size="10.2">10<tspan font-size="8.2" dy="-3.6">3</tspan></text>
<text x="393.01" y="245" text-anchor="middle" font-size="10.2">10<tspan font-size="8.2" dy="-3.6">4</tspan></text>
<text x="435.66" y="245" text-anchor="middle" font-size="10.2">10<tspan font-size="8.2" dy="-3.6">5</tspan></text>
<path d="M403.3 140.5H415.5" stroke="#000" stroke-width="2"/>
<path d="M403.3 153.2H415.5" stroke="#767676" stroke-width="2"/>
<text x="419.5" y="143.4" font-size="9.8" fill="#111">NIK<tspan font-size="6.3" dy="-2.4" style="stroke-width:0.1px">+/+</tspan></text>
<text x="419.5" y="156.1" font-size="9.8" fill="#111">NIK<tspan font-size="6.3" dy="-2.4" style="stroke-width:0.1px">–/–</tspan></text>
<path d="M37.4 257.3H233.5V354.7" fill="none" stroke="#333" stroke-width="1.25"/>
<path d="M32.8 354.7H37.4M35.3 350.04H37.4M35.3 345.38H37.4M35.3 340.72H37.4M32.8 336.06H37.4M35.3 331.4H37.4M35.3 326.74H37.4M35.3 322.08H37.4M32.8 317.42H37.4M35.3 312.76H37.4M35.3 308.1H37.4M35.3 303.44H37.4M32.8 298.78H37.4M35.3 294.12H37.4M35.3 289.46H37.4M35.3 284.8H37.4M32.8 280.14H37.4M35.3 275.48H37.4M35.3 270.82H37.4M35.3 266.16H37.4M32.8 261.5H37.4" stroke="#000" stroke-width="1.3"/>
<text x="30.2" y="363.1" text-anchor="end" font-size="10.4">0</text>
<text x="30.2" y="344.46" text-anchor="end" font-size="10.4">20</text>
<text x="30.2" y="325.82" text-anchor="end" font-size="10.4">40</text>
<text x="30.2" y="307.18" text-anchor="end" font-size="10.4">60</text>
<text x="30.2" y="288.54" text-anchor="end" font-size="10.4">80</text>
<text x="30.2" y="269.9" text-anchor="end" font-size="10.4">100</text>
<path d="M58.5 354.7v3.2M79.7 354.7v3.2M126.68 354.7v3.2M171.53 354.7v3.2M214.87 354.7v3.2M38 354.7v3.2M93.84 354.7v1.8M102.12 354.7v1.8M107.99 354.7v1.8M112.54 354.7v1.8M116.26 354.7v1.8M119.41 354.7v1.8M122.13 354.7v1.8M124.53 354.7v1.8M140.18 354.7v1.8M148.08 354.7v1.8M153.69 354.7v1.8M158.03 354.7v1.8M161.58 354.7v1.8M164.59 354.7v1.8M167.19 354.7v1.8M169.48 354.7v1.8M184.58 354.7v1.8M192.21 354.7v1.8M197.62 354.7v1.8M201.82 354.7v1.8M205.26 354.7v1.8M208.16 354.7v1.8M210.67 354.7v1.8M212.89 354.7v1.8M227.92 354.7v1.8M63.8 354.7v1.8M69.1 354.7v1.8M74.4 354.7v1.8M44.36 354.7v1.8M51.33 354.7v1.8" stroke="#000" stroke-width="1.2"/>
<path d="M37.4 256.8V354.7H233.5" fill="none" stroke="#000" stroke-width="1.5"/>
<text x="58.5" y="370.8" text-anchor="middle" font-size="10.2">0</text>
<text x="79.7" y="370.8" text-anchor="middle" font-size="10.2">10<tspan font-size="8.2" dy="-3.6">2</tspan></text>
<text x="126.68" y="370.8" text-anchor="middle" font-size="10.2">10<tspan font-size="8.2" dy="-3.6">3</tspan></text>
<text x="171.53" y="370.8" text-anchor="middle" font-size="10.2">10<tspan font-size="8.2" dy="-3.6">4</tspan></text>
<text x="214.87" y="370.8" text-anchor="middle" font-size="10.2">10<tspan font-size="8.2" dy="-3.6">5</tspan></text>
<path d="M183.1 267.1H195.6" stroke="#000" stroke-width="2"/>
<path d="M183.1 280H195.6" stroke="#767676" stroke-width="2"/>
<text x="199.45" y="270" font-size="9.8" fill="#111">NIK<tspan font-size="6.3" dy="-2.4" style="stroke-width:0.1px">+/+</tspan></text>
<text x="199.45" y="282.9" font-size="9.8" fill="#111">NIK<tspan font-size="6.3" dy="-2.4" style="stroke-width:0.1px">–/–</tspan></text>
<path d="M260.7 256.7H453.7V353.5" fill="none" stroke="#333" stroke-width="1.25"/>
<path d="M256.1 353.5H260.7M258.6 348.87H260.7M258.6 344.23H260.7M258.6 339.6H260.7M256.1 334.96H260.7M258.6 330.32H260.7M258.6 325.69H260.7M258.6 321.06H260.7M256.1 316.42H260.7M258.6 311.79H260.7M258.6 307.15H260.7M258.6 302.51H260.7M256.1 297.88H260.7M258.6 293.25H260.7M258.6 288.61H260.7M258.6 283.98H260.7M256.1 279.34H260.7M258.6 274.71H260.7M258.6 270.07H260.7M258.6 265.44H260.7M256.1 260.8H260.7" stroke="#000" stroke-width="1.3"/>
<text x="253.5" y="361.9" text-anchor="end" font-size="10.4">0</text>
<text x="253.5" y="343.36" text-anchor="end" font-size="10.4">20</text>
<text x="253.5" y="324.82" text-anchor="end" font-size="10.4">40</text>
<text x="253.5" y="306.28" text-anchor="end" font-size="10.4">60</text>
<text x="253.5" y="287.74" text-anchor="end" font-size="10.4">80</text>
<text x="253.5" y="269.2" text-anchor="end" font-size="10.4">100</text>
<path d="M281.47 353.5v3.2M302.33 353.5v3.2M348.57 353.5v3.2M392.71 353.5v3.2M435.37 353.5v3.2M261.3 353.5v3.2M316.25 353.5v1.8M324.39 353.5v1.8M330.17 353.5v1.8M334.65 353.5v1.8M338.31 353.5v1.8M341.41 353.5v1.8M344.09 353.5v1.8M346.46 353.5v1.8M361.86 353.5v1.8M369.63 353.5v1.8M375.15 353.5v1.8M379.42 353.5v1.8M382.92 353.5v1.8M385.87 353.5v1.8M388.43 353.5v1.8M390.69 353.5v1.8M405.55 353.5v1.8M413.06 353.5v1.8M418.39 353.5v1.8M422.53 353.5v1.8M425.9 353.5v1.8M428.76 353.5v1.8M431.23 353.5v1.8M433.41 353.5v1.8M448.2 353.5v1.8M286.68 353.5v1.8M291.9 353.5v1.8M297.11 353.5v1.8M267.55 353.5v1.8M274.41 353.5v1.8" stroke="#000" stroke-width="1.2"/>
<path d="M260.7 256.2V353.5H453.7" fill="none" stroke="#000" stroke-width="1.5"/>
<text x="281.47" y="369.6" text-anchor="middle" font-size="10.2">0</text>
<text x="302.33" y="369.6" text-anchor="middle" font-size="10.2">10<tspan font-size="8.2" dy="-3.6">2</tspan></text>
<text x="348.57" y="369.6" text-anchor="middle" font-size="10.2">10<tspan font-size="8.2" dy="-3.6">3</tspan></text>
<text x="392.71" y="369.6" text-anchor="middle" font-size="10.2">10<tspan font-size="8.2" dy="-3.6">4</tspan></text>
<text x="435.37" y="369.6" text-anchor="middle" font-size="10.2">10<tspan font-size="8.2" dy="-3.6">5</tspan></text>
<path d="M404 267.75H416.5" stroke="#000" stroke-width="2"/>
<path d="M404 281H416.5" stroke="#767676" stroke-width="2"/>
<text x="420.3" y="270.65" font-size="9.8" fill="#111">NIK<tspan font-size="6.3" dy="-2.4" style="stroke-width:0.1px">+/+</tspan></text>
<text x="420.3" y="283.9" font-size="9.8" fill="#111">NIK<tspan font-size="6.3" dy="-2.4" style="stroke-width:0.1px">–/–</tspan></text>
<text x="127.2" y="8.8" text-anchor="middle" font-size="11.4">25 min</text>
<text x="355.3" y="8.8" text-anchor="middle" font-size="11.4">50 min</text>
<text transform="translate(8.6 63.0) rotate(-90)" text-anchor="middle" font-size="10.4">% of Max</text>
<text transform="translate(8.6 177.7) rotate(-90)" text-anchor="middle" font-size="10.4">% of Max</text>
<text transform="translate(8.6 302.7) rotate(-90)" text-anchor="middle" font-size="10.4">% of Max</text>
<text x="456.1" y="64.8" font-size="11.4">IL-6</text>
<text x="457.2" y="180.9" font-size="11.3"><tspan font-size="11.8">α</tspan>CD3/CD28</text>
<text x="484" y="292.9" text-anchor="middle" font-size="11.4">IL-6</text>
<text x="485.5" y="303.5" text-anchor="middle" font-size="11">+</text>
<text x="457.2" y="314.8" font-size="11.3"><tspan font-size="11.8">α</tspan>CD3/CD28</text>
</svg></body></html>
